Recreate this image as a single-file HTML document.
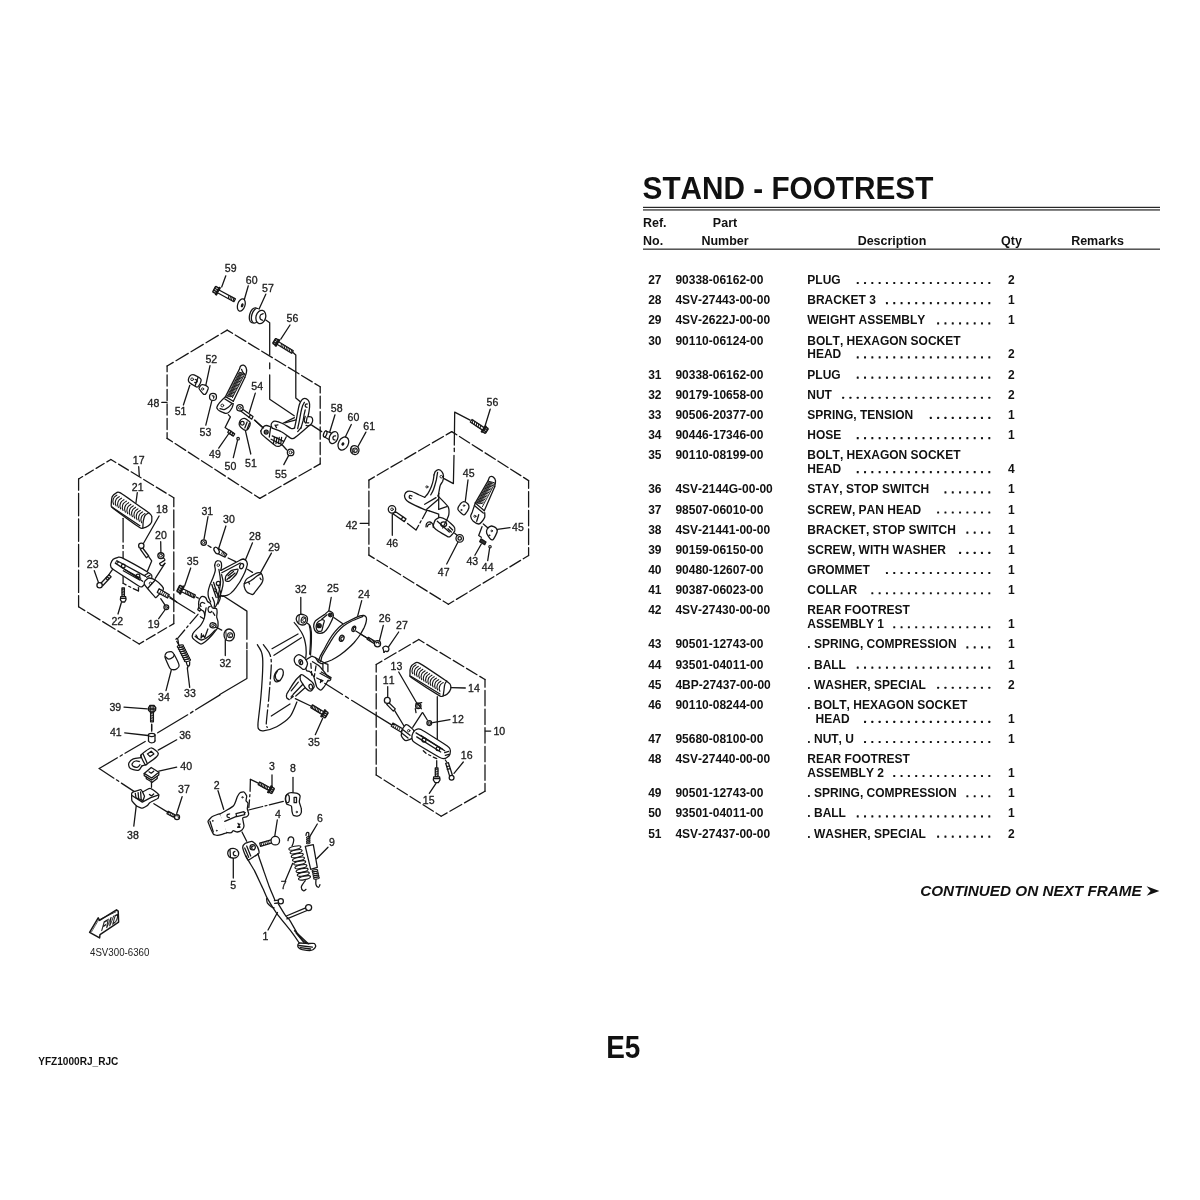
<!DOCTYPE html>
<html><head><meta charset="utf-8"><title>STAND - FOOTREST</title>
<style>
html,body{margin:0;padding:0;background:#fff;}
body{width:1200px;height:1200px;overflow:hidden;}
svg{display:block;position:absolute;left:0;top:0;will-change:transform;}
text{font-family:"Liberation Sans",sans-serif;font-kerning:none;font-feature-settings:"kern" 0,"liga" 0;}
.t text{font-weight:bold;font-size:12.0px;fill:#111;}
.t rect{fill:#111;}
text.n{font-size:10.9px;fill:#1c1c1c;stroke:#1c1c1c;stroke-width:0.32px;font-weight:normal;}
</style></head><body>
<svg width="1200" height="1200" viewBox="0 0 1200 1200">
<rect width="1200" height="1200" fill="#fff"/>
<g class="t">
<text transform="translate(642.60,199.40) scale(1,1.025)" style="font-size:29.75px;">STAND - FOOTREST</text>
<rect x="643" y="206.8" width="517" height="1.1"/>
<rect x="643" y="209.4" width="517" height="1.1"/>
<text transform="translate(643.00,227.20) scale(1,0.98)" style="font-size:12.5px;">Ref.</text>
<text transform="translate(643.00,244.70) scale(1,0.98)" style="font-size:12.5px;">No.</text>
<text transform="translate(725.00,227.20) scale(1,0.98)" text-anchor="middle" style="font-size:12.5px;">Part</text>
<text transform="translate(725.00,244.70) scale(1,0.98)" text-anchor="middle" style="font-size:12.5px;">Number</text>
<text transform="translate(892.00,244.70) scale(1,0.98)" text-anchor="middle" style="font-size:12.5px;">Description</text>
<text transform="translate(1011.50,244.70) scale(1,0.98)" text-anchor="middle" style="font-size:12.5px;">Qty</text>
<text transform="translate(1097.50,244.70) scale(1,0.98)" text-anchor="middle" style="font-size:12.5px;">Remarks</text>
<rect x="643" y="248.6" width="517" height="1.1"/>
<text transform="translate(661.50,284.00) scale(1,1.06)" text-anchor="end">27</text>
<text transform="translate(675.40,284.00) scale(1,1.06)">90338-06162-00</text>
<text transform="translate(807.30,284.00) scale(1,1.06)">PLUG</text>
<rect x="988.30" y="281.95" width="2" height="2.1" rx="0.5"/>
<rect x="980.99" y="281.95" width="2" height="2.1" rx="0.5"/>
<rect x="973.68" y="281.95" width="2" height="2.1" rx="0.5"/>
<rect x="966.37" y="281.95" width="2" height="2.1" rx="0.5"/>
<rect x="959.06" y="281.95" width="2" height="2.1" rx="0.5"/>
<rect x="951.75" y="281.95" width="2" height="2.1" rx="0.5"/>
<rect x="944.44" y="281.95" width="2" height="2.1" rx="0.5"/>
<rect x="937.13" y="281.95" width="2" height="2.1" rx="0.5"/>
<rect x="929.82" y="281.95" width="2" height="2.1" rx="0.5"/>
<rect x="922.51" y="281.95" width="2" height="2.1" rx="0.5"/>
<rect x="915.20" y="281.95" width="2" height="2.1" rx="0.5"/>
<rect x="907.89" y="281.95" width="2" height="2.1" rx="0.5"/>
<rect x="900.58" y="281.95" width="2" height="2.1" rx="0.5"/>
<rect x="893.27" y="281.95" width="2" height="2.1" rx="0.5"/>
<rect x="885.96" y="281.95" width="2" height="2.1" rx="0.5"/>
<rect x="878.65" y="281.95" width="2" height="2.1" rx="0.5"/>
<rect x="871.34" y="281.95" width="2" height="2.1" rx="0.5"/>
<rect x="864.03" y="281.95" width="2" height="2.1" rx="0.5"/>
<rect x="856.72" y="281.95" width="2" height="2.1" rx="0.5"/>
<text transform="translate(1008.00,284.00) scale(1,1.06)">2</text>
<text transform="translate(661.50,304.17) scale(1,1.06)" text-anchor="end">28</text>
<text transform="translate(675.40,304.17) scale(1,1.06)">4SV-27443-00-00</text>
<text transform="translate(807.30,304.17) scale(1,1.06)">BRACKET 3</text>
<rect x="988.30" y="302.12" width="2" height="2.1" rx="0.5"/>
<rect x="980.99" y="302.12" width="2" height="2.1" rx="0.5"/>
<rect x="973.68" y="302.12" width="2" height="2.1" rx="0.5"/>
<rect x="966.37" y="302.12" width="2" height="2.1" rx="0.5"/>
<rect x="959.06" y="302.12" width="2" height="2.1" rx="0.5"/>
<rect x="951.75" y="302.12" width="2" height="2.1" rx="0.5"/>
<rect x="944.44" y="302.12" width="2" height="2.1" rx="0.5"/>
<rect x="937.13" y="302.12" width="2" height="2.1" rx="0.5"/>
<rect x="929.82" y="302.12" width="2" height="2.1" rx="0.5"/>
<rect x="922.51" y="302.12" width="2" height="2.1" rx="0.5"/>
<rect x="915.20" y="302.12" width="2" height="2.1" rx="0.5"/>
<rect x="907.89" y="302.12" width="2" height="2.1" rx="0.5"/>
<rect x="900.58" y="302.12" width="2" height="2.1" rx="0.5"/>
<rect x="893.27" y="302.12" width="2" height="2.1" rx="0.5"/>
<rect x="885.96" y="302.12" width="2" height="2.1" rx="0.5"/>
<text transform="translate(1008.00,304.17) scale(1,1.06)">1</text>
<text transform="translate(661.50,324.34) scale(1,1.06)" text-anchor="end">29</text>
<text transform="translate(675.40,324.34) scale(1,1.06)">4SV-2622J-00-00</text>
<text transform="translate(807.30,324.34) scale(1,1.06)">WEIGHT ASSEMBLY</text>
<rect x="988.30" y="322.29" width="2" height="2.1" rx="0.5"/>
<rect x="980.99" y="322.29" width="2" height="2.1" rx="0.5"/>
<rect x="973.68" y="322.29" width="2" height="2.1" rx="0.5"/>
<rect x="966.37" y="322.29" width="2" height="2.1" rx="0.5"/>
<rect x="959.06" y="322.29" width="2" height="2.1" rx="0.5"/>
<rect x="951.75" y="322.29" width="2" height="2.1" rx="0.5"/>
<rect x="944.44" y="322.29" width="2" height="2.1" rx="0.5"/>
<rect x="937.13" y="322.29" width="2" height="2.1" rx="0.5"/>
<text transform="translate(1008.00,324.34) scale(1,1.06)">1</text>
<text transform="translate(661.50,344.51) scale(1,1.06)" text-anchor="end">30</text>
<text transform="translate(675.40,344.51) scale(1,1.06)">90110-06124-00</text>
<text transform="translate(807.30,344.51) scale(1,1.06)">BOLT, HEXAGON SOCKET</text>
<text transform="translate(807.30,358.41) scale(1,1.06)">HEAD</text>
<rect x="988.30" y="356.36" width="2" height="2.1" rx="0.5"/>
<rect x="980.99" y="356.36" width="2" height="2.1" rx="0.5"/>
<rect x="973.68" y="356.36" width="2" height="2.1" rx="0.5"/>
<rect x="966.37" y="356.36" width="2" height="2.1" rx="0.5"/>
<rect x="959.06" y="356.36" width="2" height="2.1" rx="0.5"/>
<rect x="951.75" y="356.36" width="2" height="2.1" rx="0.5"/>
<rect x="944.44" y="356.36" width="2" height="2.1" rx="0.5"/>
<rect x="937.13" y="356.36" width="2" height="2.1" rx="0.5"/>
<rect x="929.82" y="356.36" width="2" height="2.1" rx="0.5"/>
<rect x="922.51" y="356.36" width="2" height="2.1" rx="0.5"/>
<rect x="915.20" y="356.36" width="2" height="2.1" rx="0.5"/>
<rect x="907.89" y="356.36" width="2" height="2.1" rx="0.5"/>
<rect x="900.58" y="356.36" width="2" height="2.1" rx="0.5"/>
<rect x="893.27" y="356.36" width="2" height="2.1" rx="0.5"/>
<rect x="885.96" y="356.36" width="2" height="2.1" rx="0.5"/>
<rect x="878.65" y="356.36" width="2" height="2.1" rx="0.5"/>
<rect x="871.34" y="356.36" width="2" height="2.1" rx="0.5"/>
<rect x="864.03" y="356.36" width="2" height="2.1" rx="0.5"/>
<rect x="856.72" y="356.36" width="2" height="2.1" rx="0.5"/>
<text transform="translate(1008.00,358.41) scale(1,1.06)">2</text>
<text transform="translate(661.50,378.58) scale(1,1.06)" text-anchor="end">31</text>
<text transform="translate(675.40,378.58) scale(1,1.06)">90338-06162-00</text>
<text transform="translate(807.30,378.58) scale(1,1.06)">PLUG</text>
<rect x="988.30" y="376.53" width="2" height="2.1" rx="0.5"/>
<rect x="980.99" y="376.53" width="2" height="2.1" rx="0.5"/>
<rect x="973.68" y="376.53" width="2" height="2.1" rx="0.5"/>
<rect x="966.37" y="376.53" width="2" height="2.1" rx="0.5"/>
<rect x="959.06" y="376.53" width="2" height="2.1" rx="0.5"/>
<rect x="951.75" y="376.53" width="2" height="2.1" rx="0.5"/>
<rect x="944.44" y="376.53" width="2" height="2.1" rx="0.5"/>
<rect x="937.13" y="376.53" width="2" height="2.1" rx="0.5"/>
<rect x="929.82" y="376.53" width="2" height="2.1" rx="0.5"/>
<rect x="922.51" y="376.53" width="2" height="2.1" rx="0.5"/>
<rect x="915.20" y="376.53" width="2" height="2.1" rx="0.5"/>
<rect x="907.89" y="376.53" width="2" height="2.1" rx="0.5"/>
<rect x="900.58" y="376.53" width="2" height="2.1" rx="0.5"/>
<rect x="893.27" y="376.53" width="2" height="2.1" rx="0.5"/>
<rect x="885.96" y="376.53" width="2" height="2.1" rx="0.5"/>
<rect x="878.65" y="376.53" width="2" height="2.1" rx="0.5"/>
<rect x="871.34" y="376.53" width="2" height="2.1" rx="0.5"/>
<rect x="864.03" y="376.53" width="2" height="2.1" rx="0.5"/>
<rect x="856.72" y="376.53" width="2" height="2.1" rx="0.5"/>
<text transform="translate(1008.00,378.58) scale(1,1.06)">2</text>
<text transform="translate(661.50,398.75) scale(1,1.06)" text-anchor="end">32</text>
<text transform="translate(675.40,398.75) scale(1,1.06)">90179-10658-00</text>
<text transform="translate(807.30,398.75) scale(1,1.06)">NUT</text>
<rect x="988.30" y="396.70" width="2" height="2.1" rx="0.5"/>
<rect x="980.99" y="396.70" width="2" height="2.1" rx="0.5"/>
<rect x="973.68" y="396.70" width="2" height="2.1" rx="0.5"/>
<rect x="966.37" y="396.70" width="2" height="2.1" rx="0.5"/>
<rect x="959.06" y="396.70" width="2" height="2.1" rx="0.5"/>
<rect x="951.75" y="396.70" width="2" height="2.1" rx="0.5"/>
<rect x="944.44" y="396.70" width="2" height="2.1" rx="0.5"/>
<rect x="937.13" y="396.70" width="2" height="2.1" rx="0.5"/>
<rect x="929.82" y="396.70" width="2" height="2.1" rx="0.5"/>
<rect x="922.51" y="396.70" width="2" height="2.1" rx="0.5"/>
<rect x="915.20" y="396.70" width="2" height="2.1" rx="0.5"/>
<rect x="907.89" y="396.70" width="2" height="2.1" rx="0.5"/>
<rect x="900.58" y="396.70" width="2" height="2.1" rx="0.5"/>
<rect x="893.27" y="396.70" width="2" height="2.1" rx="0.5"/>
<rect x="885.96" y="396.70" width="2" height="2.1" rx="0.5"/>
<rect x="878.65" y="396.70" width="2" height="2.1" rx="0.5"/>
<rect x="871.34" y="396.70" width="2" height="2.1" rx="0.5"/>
<rect x="864.03" y="396.70" width="2" height="2.1" rx="0.5"/>
<rect x="856.72" y="396.70" width="2" height="2.1" rx="0.5"/>
<rect x="849.41" y="396.70" width="2" height="2.1" rx="0.5"/>
<rect x="842.10" y="396.70" width="2" height="2.1" rx="0.5"/>
<text transform="translate(1008.00,398.75) scale(1,1.06)">2</text>
<text transform="translate(661.50,418.92) scale(1,1.06)" text-anchor="end">33</text>
<text transform="translate(675.40,418.92) scale(1,1.06)">90506-20377-00</text>
<text transform="translate(807.30,418.92) scale(1,1.06)">SPRING, TENSION</text>
<rect x="988.30" y="416.87" width="2" height="2.1" rx="0.5"/>
<rect x="980.99" y="416.87" width="2" height="2.1" rx="0.5"/>
<rect x="973.68" y="416.87" width="2" height="2.1" rx="0.5"/>
<rect x="966.37" y="416.87" width="2" height="2.1" rx="0.5"/>
<rect x="959.06" y="416.87" width="2" height="2.1" rx="0.5"/>
<rect x="951.75" y="416.87" width="2" height="2.1" rx="0.5"/>
<rect x="944.44" y="416.87" width="2" height="2.1" rx="0.5"/>
<rect x="937.13" y="416.87" width="2" height="2.1" rx="0.5"/>
<rect x="929.82" y="416.87" width="2" height="2.1" rx="0.5"/>
<text transform="translate(1008.00,418.92) scale(1,1.06)">1</text>
<text transform="translate(661.50,439.09) scale(1,1.06)" text-anchor="end">34</text>
<text transform="translate(675.40,439.09) scale(1,1.06)">90446-17346-00</text>
<text transform="translate(807.30,439.09) scale(1,1.06)">HOSE</text>
<rect x="988.30" y="437.04" width="2" height="2.1" rx="0.5"/>
<rect x="980.99" y="437.04" width="2" height="2.1" rx="0.5"/>
<rect x="973.68" y="437.04" width="2" height="2.1" rx="0.5"/>
<rect x="966.37" y="437.04" width="2" height="2.1" rx="0.5"/>
<rect x="959.06" y="437.04" width="2" height="2.1" rx="0.5"/>
<rect x="951.75" y="437.04" width="2" height="2.1" rx="0.5"/>
<rect x="944.44" y="437.04" width="2" height="2.1" rx="0.5"/>
<rect x="937.13" y="437.04" width="2" height="2.1" rx="0.5"/>
<rect x="929.82" y="437.04" width="2" height="2.1" rx="0.5"/>
<rect x="922.51" y="437.04" width="2" height="2.1" rx="0.5"/>
<rect x="915.20" y="437.04" width="2" height="2.1" rx="0.5"/>
<rect x="907.89" y="437.04" width="2" height="2.1" rx="0.5"/>
<rect x="900.58" y="437.04" width="2" height="2.1" rx="0.5"/>
<rect x="893.27" y="437.04" width="2" height="2.1" rx="0.5"/>
<rect x="885.96" y="437.04" width="2" height="2.1" rx="0.5"/>
<rect x="878.65" y="437.04" width="2" height="2.1" rx="0.5"/>
<rect x="871.34" y="437.04" width="2" height="2.1" rx="0.5"/>
<rect x="864.03" y="437.04" width="2" height="2.1" rx="0.5"/>
<rect x="856.72" y="437.04" width="2" height="2.1" rx="0.5"/>
<text transform="translate(1008.00,439.09) scale(1,1.06)">1</text>
<text transform="translate(661.50,459.26) scale(1,1.06)" text-anchor="end">35</text>
<text transform="translate(675.40,459.26) scale(1,1.06)">90110-08199-00</text>
<text transform="translate(807.30,459.26) scale(1,1.06)">BOLT, HEXAGON SOCKET</text>
<text transform="translate(807.30,473.16) scale(1,1.06)">HEAD</text>
<rect x="988.30" y="471.11" width="2" height="2.1" rx="0.5"/>
<rect x="980.99" y="471.11" width="2" height="2.1" rx="0.5"/>
<rect x="973.68" y="471.11" width="2" height="2.1" rx="0.5"/>
<rect x="966.37" y="471.11" width="2" height="2.1" rx="0.5"/>
<rect x="959.06" y="471.11" width="2" height="2.1" rx="0.5"/>
<rect x="951.75" y="471.11" width="2" height="2.1" rx="0.5"/>
<rect x="944.44" y="471.11" width="2" height="2.1" rx="0.5"/>
<rect x="937.13" y="471.11" width="2" height="2.1" rx="0.5"/>
<rect x="929.82" y="471.11" width="2" height="2.1" rx="0.5"/>
<rect x="922.51" y="471.11" width="2" height="2.1" rx="0.5"/>
<rect x="915.20" y="471.11" width="2" height="2.1" rx="0.5"/>
<rect x="907.89" y="471.11" width="2" height="2.1" rx="0.5"/>
<rect x="900.58" y="471.11" width="2" height="2.1" rx="0.5"/>
<rect x="893.27" y="471.11" width="2" height="2.1" rx="0.5"/>
<rect x="885.96" y="471.11" width="2" height="2.1" rx="0.5"/>
<rect x="878.65" y="471.11" width="2" height="2.1" rx="0.5"/>
<rect x="871.34" y="471.11" width="2" height="2.1" rx="0.5"/>
<rect x="864.03" y="471.11" width="2" height="2.1" rx="0.5"/>
<rect x="856.72" y="471.11" width="2" height="2.1" rx="0.5"/>
<text transform="translate(1008.00,473.16) scale(1,1.06)">4</text>
<text transform="translate(661.50,493.33) scale(1,1.06)" text-anchor="end">36</text>
<text transform="translate(675.40,493.33) scale(1,1.06)">4SV-2144G-00-00</text>
<text transform="translate(807.30,493.33) scale(1,1.06)">STAY, STOP SWITCH</text>
<rect x="988.30" y="491.28" width="2" height="2.1" rx="0.5"/>
<rect x="980.99" y="491.28" width="2" height="2.1" rx="0.5"/>
<rect x="973.68" y="491.28" width="2" height="2.1" rx="0.5"/>
<rect x="966.37" y="491.28" width="2" height="2.1" rx="0.5"/>
<rect x="959.06" y="491.28" width="2" height="2.1" rx="0.5"/>
<rect x="951.75" y="491.28" width="2" height="2.1" rx="0.5"/>
<rect x="944.44" y="491.28" width="2" height="2.1" rx="0.5"/>
<text transform="translate(1008.00,493.33) scale(1,1.06)">1</text>
<text transform="translate(661.50,513.50) scale(1,1.06)" text-anchor="end">37</text>
<text transform="translate(675.40,513.50) scale(1,1.06)">98507-06010-00</text>
<text transform="translate(807.30,513.50) scale(1,1.06)">SCREW, PAN HEAD</text>
<rect x="988.30" y="511.45" width="2" height="2.1" rx="0.5"/>
<rect x="980.99" y="511.45" width="2" height="2.1" rx="0.5"/>
<rect x="973.68" y="511.45" width="2" height="2.1" rx="0.5"/>
<rect x="966.37" y="511.45" width="2" height="2.1" rx="0.5"/>
<rect x="959.06" y="511.45" width="2" height="2.1" rx="0.5"/>
<rect x="951.75" y="511.45" width="2" height="2.1" rx="0.5"/>
<rect x="944.44" y="511.45" width="2" height="2.1" rx="0.5"/>
<rect x="937.13" y="511.45" width="2" height="2.1" rx="0.5"/>
<text transform="translate(1008.00,513.50) scale(1,1.06)">1</text>
<text transform="translate(661.50,533.67) scale(1,1.06)" text-anchor="end">38</text>
<text transform="translate(675.40,533.67) scale(1,1.06)">4SV-21441-00-00</text>
<text transform="translate(807.30,533.67) scale(1,1.06)">BRACKET, STOP SWITCH</text>
<rect x="988.30" y="531.62" width="2" height="2.1" rx="0.5"/>
<rect x="980.99" y="531.62" width="2" height="2.1" rx="0.5"/>
<rect x="973.68" y="531.62" width="2" height="2.1" rx="0.5"/>
<rect x="966.37" y="531.62" width="2" height="2.1" rx="0.5"/>
<text transform="translate(1008.00,533.67) scale(1,1.06)">1</text>
<text transform="translate(661.50,553.84) scale(1,1.06)" text-anchor="end">39</text>
<text transform="translate(675.40,553.84) scale(1,1.06)">90159-06150-00</text>
<text transform="translate(807.30,553.84) scale(1,1.06)">SCREW, WITH WASHER</text>
<rect x="988.30" y="551.79" width="2" height="2.1" rx="0.5"/>
<rect x="980.99" y="551.79" width="2" height="2.1" rx="0.5"/>
<rect x="973.68" y="551.79" width="2" height="2.1" rx="0.5"/>
<rect x="966.37" y="551.79" width="2" height="2.1" rx="0.5"/>
<rect x="959.06" y="551.79" width="2" height="2.1" rx="0.5"/>
<text transform="translate(1008.00,553.84) scale(1,1.06)">1</text>
<text transform="translate(661.50,574.01) scale(1,1.06)" text-anchor="end">40</text>
<text transform="translate(675.40,574.01) scale(1,1.06)">90480-12607-00</text>
<text transform="translate(807.30,574.01) scale(1,1.06)">GROMMET</text>
<rect x="988.30" y="571.96" width="2" height="2.1" rx="0.5"/>
<rect x="980.99" y="571.96" width="2" height="2.1" rx="0.5"/>
<rect x="973.68" y="571.96" width="2" height="2.1" rx="0.5"/>
<rect x="966.37" y="571.96" width="2" height="2.1" rx="0.5"/>
<rect x="959.06" y="571.96" width="2" height="2.1" rx="0.5"/>
<rect x="951.75" y="571.96" width="2" height="2.1" rx="0.5"/>
<rect x="944.44" y="571.96" width="2" height="2.1" rx="0.5"/>
<rect x="937.13" y="571.96" width="2" height="2.1" rx="0.5"/>
<rect x="929.82" y="571.96" width="2" height="2.1" rx="0.5"/>
<rect x="922.51" y="571.96" width="2" height="2.1" rx="0.5"/>
<rect x="915.20" y="571.96" width="2" height="2.1" rx="0.5"/>
<rect x="907.89" y="571.96" width="2" height="2.1" rx="0.5"/>
<rect x="900.58" y="571.96" width="2" height="2.1" rx="0.5"/>
<rect x="893.27" y="571.96" width="2" height="2.1" rx="0.5"/>
<rect x="885.96" y="571.96" width="2" height="2.1" rx="0.5"/>
<text transform="translate(1008.00,574.01) scale(1,1.06)">1</text>
<text transform="translate(661.50,594.18) scale(1,1.06)" text-anchor="end">41</text>
<text transform="translate(675.40,594.18) scale(1,1.06)">90387-06023-00</text>
<text transform="translate(807.30,594.18) scale(1,1.06)">COLLAR</text>
<rect x="988.30" y="592.13" width="2" height="2.1" rx="0.5"/>
<rect x="980.99" y="592.13" width="2" height="2.1" rx="0.5"/>
<rect x="973.68" y="592.13" width="2" height="2.1" rx="0.5"/>
<rect x="966.37" y="592.13" width="2" height="2.1" rx="0.5"/>
<rect x="959.06" y="592.13" width="2" height="2.1" rx="0.5"/>
<rect x="951.75" y="592.13" width="2" height="2.1" rx="0.5"/>
<rect x="944.44" y="592.13" width="2" height="2.1" rx="0.5"/>
<rect x="937.13" y="592.13" width="2" height="2.1" rx="0.5"/>
<rect x="929.82" y="592.13" width="2" height="2.1" rx="0.5"/>
<rect x="922.51" y="592.13" width="2" height="2.1" rx="0.5"/>
<rect x="915.20" y="592.13" width="2" height="2.1" rx="0.5"/>
<rect x="907.89" y="592.13" width="2" height="2.1" rx="0.5"/>
<rect x="900.58" y="592.13" width="2" height="2.1" rx="0.5"/>
<rect x="893.27" y="592.13" width="2" height="2.1" rx="0.5"/>
<rect x="885.96" y="592.13" width="2" height="2.1" rx="0.5"/>
<rect x="878.65" y="592.13" width="2" height="2.1" rx="0.5"/>
<rect x="871.34" y="592.13" width="2" height="2.1" rx="0.5"/>
<text transform="translate(1008.00,594.18) scale(1,1.06)">1</text>
<text transform="translate(661.50,614.35) scale(1,1.06)" text-anchor="end">42</text>
<text transform="translate(675.40,614.35) scale(1,1.06)">4SV-27430-00-00</text>
<text transform="translate(807.30,614.35) scale(1,1.06)">REAR FOOTREST</text>
<text transform="translate(807.30,628.25) scale(1,1.06)">ASSEMBLY 1</text>
<rect x="988.30" y="626.20" width="2" height="2.1" rx="0.5"/>
<rect x="980.99" y="626.20" width="2" height="2.1" rx="0.5"/>
<rect x="973.68" y="626.20" width="2" height="2.1" rx="0.5"/>
<rect x="966.37" y="626.20" width="2" height="2.1" rx="0.5"/>
<rect x="959.06" y="626.20" width="2" height="2.1" rx="0.5"/>
<rect x="951.75" y="626.20" width="2" height="2.1" rx="0.5"/>
<rect x="944.44" y="626.20" width="2" height="2.1" rx="0.5"/>
<rect x="937.13" y="626.20" width="2" height="2.1" rx="0.5"/>
<rect x="929.82" y="626.20" width="2" height="2.1" rx="0.5"/>
<rect x="922.51" y="626.20" width="2" height="2.1" rx="0.5"/>
<rect x="915.20" y="626.20" width="2" height="2.1" rx="0.5"/>
<rect x="907.89" y="626.20" width="2" height="2.1" rx="0.5"/>
<rect x="900.58" y="626.20" width="2" height="2.1" rx="0.5"/>
<rect x="893.27" y="626.20" width="2" height="2.1" rx="0.5"/>
<text transform="translate(1008.00,628.25) scale(1,1.06)">1</text>
<text transform="translate(661.50,648.42) scale(1,1.06)" text-anchor="end">43</text>
<text transform="translate(675.40,648.42) scale(1,1.06)">90501-12743-00</text>
<text transform="translate(807.30,648.42) scale(1,1.06)">. SPRING, COMPRESSION</text>
<rect x="988.30" y="646.37" width="2" height="2.1" rx="0.5"/>
<rect x="980.99" y="646.37" width="2" height="2.1" rx="0.5"/>
<rect x="973.68" y="646.37" width="2" height="2.1" rx="0.5"/>
<rect x="966.37" y="646.37" width="2" height="2.1" rx="0.5"/>
<text transform="translate(1008.00,648.42) scale(1,1.06)">1</text>
<text transform="translate(661.50,668.59) scale(1,1.06)" text-anchor="end">44</text>
<text transform="translate(675.40,668.59) scale(1,1.06)">93501-04011-00</text>
<text transform="translate(807.30,668.59) scale(1,1.06)">. BALL</text>
<rect x="988.30" y="666.54" width="2" height="2.1" rx="0.5"/>
<rect x="980.99" y="666.54" width="2" height="2.1" rx="0.5"/>
<rect x="973.68" y="666.54" width="2" height="2.1" rx="0.5"/>
<rect x="966.37" y="666.54" width="2" height="2.1" rx="0.5"/>
<rect x="959.06" y="666.54" width="2" height="2.1" rx="0.5"/>
<rect x="951.75" y="666.54" width="2" height="2.1" rx="0.5"/>
<rect x="944.44" y="666.54" width="2" height="2.1" rx="0.5"/>
<rect x="937.13" y="666.54" width="2" height="2.1" rx="0.5"/>
<rect x="929.82" y="666.54" width="2" height="2.1" rx="0.5"/>
<rect x="922.51" y="666.54" width="2" height="2.1" rx="0.5"/>
<rect x="915.20" y="666.54" width="2" height="2.1" rx="0.5"/>
<rect x="907.89" y="666.54" width="2" height="2.1" rx="0.5"/>
<rect x="900.58" y="666.54" width="2" height="2.1" rx="0.5"/>
<rect x="893.27" y="666.54" width="2" height="2.1" rx="0.5"/>
<rect x="885.96" y="666.54" width="2" height="2.1" rx="0.5"/>
<rect x="878.65" y="666.54" width="2" height="2.1" rx="0.5"/>
<rect x="871.34" y="666.54" width="2" height="2.1" rx="0.5"/>
<rect x="864.03" y="666.54" width="2" height="2.1" rx="0.5"/>
<rect x="856.72" y="666.54" width="2" height="2.1" rx="0.5"/>
<text transform="translate(1008.00,668.59) scale(1,1.06)">1</text>
<text transform="translate(661.50,688.76) scale(1,1.06)" text-anchor="end">45</text>
<text transform="translate(675.40,688.76) scale(1,1.06)">4BP-27437-00-00</text>
<text transform="translate(807.30,688.76) scale(1,1.06)">. WASHER, SPECIAL</text>
<rect x="988.30" y="686.71" width="2" height="2.1" rx="0.5"/>
<rect x="980.99" y="686.71" width="2" height="2.1" rx="0.5"/>
<rect x="973.68" y="686.71" width="2" height="2.1" rx="0.5"/>
<rect x="966.37" y="686.71" width="2" height="2.1" rx="0.5"/>
<rect x="959.06" y="686.71" width="2" height="2.1" rx="0.5"/>
<rect x="951.75" y="686.71" width="2" height="2.1" rx="0.5"/>
<rect x="944.44" y="686.71" width="2" height="2.1" rx="0.5"/>
<rect x="937.13" y="686.71" width="2" height="2.1" rx="0.5"/>
<text transform="translate(1008.00,688.76) scale(1,1.06)">2</text>
<text transform="translate(661.50,708.93) scale(1,1.06)" text-anchor="end">46</text>
<text transform="translate(675.40,708.93) scale(1,1.06)">90110-08244-00</text>
<text transform="translate(807.30,708.93) scale(1,1.06)">. BOLT, HEXAGON SOCKET</text>
<text transform="translate(815.60,722.83) scale(1,1.06)">HEAD</text>
<rect x="988.30" y="720.78" width="2" height="2.1" rx="0.5"/>
<rect x="980.99" y="720.78" width="2" height="2.1" rx="0.5"/>
<rect x="973.68" y="720.78" width="2" height="2.1" rx="0.5"/>
<rect x="966.37" y="720.78" width="2" height="2.1" rx="0.5"/>
<rect x="959.06" y="720.78" width="2" height="2.1" rx="0.5"/>
<rect x="951.75" y="720.78" width="2" height="2.1" rx="0.5"/>
<rect x="944.44" y="720.78" width="2" height="2.1" rx="0.5"/>
<rect x="937.13" y="720.78" width="2" height="2.1" rx="0.5"/>
<rect x="929.82" y="720.78" width="2" height="2.1" rx="0.5"/>
<rect x="922.51" y="720.78" width="2" height="2.1" rx="0.5"/>
<rect x="915.20" y="720.78" width="2" height="2.1" rx="0.5"/>
<rect x="907.89" y="720.78" width="2" height="2.1" rx="0.5"/>
<rect x="900.58" y="720.78" width="2" height="2.1" rx="0.5"/>
<rect x="893.27" y="720.78" width="2" height="2.1" rx="0.5"/>
<rect x="885.96" y="720.78" width="2" height="2.1" rx="0.5"/>
<rect x="878.65" y="720.78" width="2" height="2.1" rx="0.5"/>
<rect x="871.34" y="720.78" width="2" height="2.1" rx="0.5"/>
<rect x="864.03" y="720.78" width="2" height="2.1" rx="0.5"/>
<text transform="translate(1008.00,722.83) scale(1,1.06)">1</text>
<text transform="translate(661.50,743.00) scale(1,1.06)" text-anchor="end">47</text>
<text transform="translate(675.40,743.00) scale(1,1.06)">95680-08100-00</text>
<text transform="translate(807.30,743.00) scale(1,1.06)">. NUT, U</text>
<rect x="988.30" y="740.95" width="2" height="2.1" rx="0.5"/>
<rect x="980.99" y="740.95" width="2" height="2.1" rx="0.5"/>
<rect x="973.68" y="740.95" width="2" height="2.1" rx="0.5"/>
<rect x="966.37" y="740.95" width="2" height="2.1" rx="0.5"/>
<rect x="959.06" y="740.95" width="2" height="2.1" rx="0.5"/>
<rect x="951.75" y="740.95" width="2" height="2.1" rx="0.5"/>
<rect x="944.44" y="740.95" width="2" height="2.1" rx="0.5"/>
<rect x="937.13" y="740.95" width="2" height="2.1" rx="0.5"/>
<rect x="929.82" y="740.95" width="2" height="2.1" rx="0.5"/>
<rect x="922.51" y="740.95" width="2" height="2.1" rx="0.5"/>
<rect x="915.20" y="740.95" width="2" height="2.1" rx="0.5"/>
<rect x="907.89" y="740.95" width="2" height="2.1" rx="0.5"/>
<rect x="900.58" y="740.95" width="2" height="2.1" rx="0.5"/>
<rect x="893.27" y="740.95" width="2" height="2.1" rx="0.5"/>
<rect x="885.96" y="740.95" width="2" height="2.1" rx="0.5"/>
<rect x="878.65" y="740.95" width="2" height="2.1" rx="0.5"/>
<rect x="871.34" y="740.95" width="2" height="2.1" rx="0.5"/>
<rect x="864.03" y="740.95" width="2" height="2.1" rx="0.5"/>
<text transform="translate(1008.00,743.00) scale(1,1.06)">1</text>
<text transform="translate(661.50,763.17) scale(1,1.06)" text-anchor="end">48</text>
<text transform="translate(675.40,763.17) scale(1,1.06)">4SV-27440-00-00</text>
<text transform="translate(807.30,763.17) scale(1,1.06)">REAR FOOTREST</text>
<text transform="translate(807.30,777.07) scale(1,1.06)">ASSEMBLY 2</text>
<rect x="988.30" y="775.02" width="2" height="2.1" rx="0.5"/>
<rect x="980.99" y="775.02" width="2" height="2.1" rx="0.5"/>
<rect x="973.68" y="775.02" width="2" height="2.1" rx="0.5"/>
<rect x="966.37" y="775.02" width="2" height="2.1" rx="0.5"/>
<rect x="959.06" y="775.02" width="2" height="2.1" rx="0.5"/>
<rect x="951.75" y="775.02" width="2" height="2.1" rx="0.5"/>
<rect x="944.44" y="775.02" width="2" height="2.1" rx="0.5"/>
<rect x="937.13" y="775.02" width="2" height="2.1" rx="0.5"/>
<rect x="929.82" y="775.02" width="2" height="2.1" rx="0.5"/>
<rect x="922.51" y="775.02" width="2" height="2.1" rx="0.5"/>
<rect x="915.20" y="775.02" width="2" height="2.1" rx="0.5"/>
<rect x="907.89" y="775.02" width="2" height="2.1" rx="0.5"/>
<rect x="900.58" y="775.02" width="2" height="2.1" rx="0.5"/>
<rect x="893.27" y="775.02" width="2" height="2.1" rx="0.5"/>
<text transform="translate(1008.00,777.07) scale(1,1.06)">1</text>
<text transform="translate(661.50,797.24) scale(1,1.06)" text-anchor="end">49</text>
<text transform="translate(675.40,797.24) scale(1,1.06)">90501-12743-00</text>
<text transform="translate(807.30,797.24) scale(1,1.06)">. SPRING, COMPRESSION</text>
<rect x="988.30" y="795.19" width="2" height="2.1" rx="0.5"/>
<rect x="980.99" y="795.19" width="2" height="2.1" rx="0.5"/>
<rect x="973.68" y="795.19" width="2" height="2.1" rx="0.5"/>
<rect x="966.37" y="795.19" width="2" height="2.1" rx="0.5"/>
<text transform="translate(1008.00,797.24) scale(1,1.06)">1</text>
<text transform="translate(661.50,817.41) scale(1,1.06)" text-anchor="end">50</text>
<text transform="translate(675.40,817.41) scale(1,1.06)">93501-04011-00</text>
<text transform="translate(807.30,817.41) scale(1,1.06)">. BALL</text>
<rect x="988.30" y="815.36" width="2" height="2.1" rx="0.5"/>
<rect x="980.99" y="815.36" width="2" height="2.1" rx="0.5"/>
<rect x="973.68" y="815.36" width="2" height="2.1" rx="0.5"/>
<rect x="966.37" y="815.36" width="2" height="2.1" rx="0.5"/>
<rect x="959.06" y="815.36" width="2" height="2.1" rx="0.5"/>
<rect x="951.75" y="815.36" width="2" height="2.1" rx="0.5"/>
<rect x="944.44" y="815.36" width="2" height="2.1" rx="0.5"/>
<rect x="937.13" y="815.36" width="2" height="2.1" rx="0.5"/>
<rect x="929.82" y="815.36" width="2" height="2.1" rx="0.5"/>
<rect x="922.51" y="815.36" width="2" height="2.1" rx="0.5"/>
<rect x="915.20" y="815.36" width="2" height="2.1" rx="0.5"/>
<rect x="907.89" y="815.36" width="2" height="2.1" rx="0.5"/>
<rect x="900.58" y="815.36" width="2" height="2.1" rx="0.5"/>
<rect x="893.27" y="815.36" width="2" height="2.1" rx="0.5"/>
<rect x="885.96" y="815.36" width="2" height="2.1" rx="0.5"/>
<rect x="878.65" y="815.36" width="2" height="2.1" rx="0.5"/>
<rect x="871.34" y="815.36" width="2" height="2.1" rx="0.5"/>
<rect x="864.03" y="815.36" width="2" height="2.1" rx="0.5"/>
<rect x="856.72" y="815.36" width="2" height="2.1" rx="0.5"/>
<text transform="translate(1008.00,817.41) scale(1,1.06)">1</text>
<text transform="translate(661.50,837.58) scale(1,1.06)" text-anchor="end">51</text>
<text transform="translate(675.40,837.58) scale(1,1.06)">4SV-27437-00-00</text>
<text transform="translate(807.30,837.58) scale(1,1.06)">. WASHER, SPECIAL</text>
<rect x="988.30" y="835.53" width="2" height="2.1" rx="0.5"/>
<rect x="980.99" y="835.53" width="2" height="2.1" rx="0.5"/>
<rect x="973.68" y="835.53" width="2" height="2.1" rx="0.5"/>
<rect x="966.37" y="835.53" width="2" height="2.1" rx="0.5"/>
<rect x="959.06" y="835.53" width="2" height="2.1" rx="0.5"/>
<rect x="951.75" y="835.53" width="2" height="2.1" rx="0.5"/>
<rect x="944.44" y="835.53" width="2" height="2.1" rx="0.5"/>
<rect x="937.13" y="835.53" width="2" height="2.1" rx="0.5"/>
<text transform="translate(1008.00,837.58) scale(1,1.06)">2</text>
<text transform="translate(920.20,896.00) scale(1,0.98)" style="font-size:15.3px;font-style:italic">CONTINUED ON NEXT FRAME</text>
<path d="M1146.6 886.2 L1159.4 891 L1146.6 895.7 L1150.6 891 Z" fill="#111"/>
<text transform="translate(606.20,1057.60) scale(1,1.115)" style="font-size:27.9px;">E5</text>
<text transform="translate(38.20,1064.80) scale(1,1.02)" style="font-size:10.1px;">YFZ1000RJ_RJC</text>
</g>
<g fill="none" stroke="#161616" stroke-width="1.28" stroke-linecap="round" stroke-linejoin="round">
<path d="M227.2 330.1 L320.2 386.8" stroke-dasharray="12.36 3.2" stroke-dashoffset="6.18"/>
<path d="M320.2 386.8 L320.2 463.9" stroke-dasharray="12.22 3.2" stroke-dashoffset="6.11"/>
<path d="M320.2 463.9 L259.8 498.4" stroke-dasharray="14.19 3.2" stroke-dashoffset="7.09"/>
<path d="M259.8 498.4 L167.1 438.4" stroke-dasharray="12.57 3.2" stroke-dashoffset="6.29"/>
<path d="M167.1 438.4 L167.1 366.0" stroke-dasharray="11.28 3.2" stroke-dashoffset="5.64"/>
<path d="M167.1 366.0 L227.2 330.1" stroke-dasharray="14.30 3.2" stroke-dashoffset="7.15"/>
<path d="M110.9 459.5 L173.8 497.8" stroke-dasharray="11.53 3.2" stroke-dashoffset="5.76"/>
<path d="M173.8 497.8 L173.8 623.6" stroke-dasharray="17.77 3.2" stroke-dashoffset="8.88"/>
<path d="M173.8 623.6 L139.2 644.0" stroke-dasharray="10.19 3.2" stroke-dashoffset="5.09"/>
<path d="M139.2 644.0 L78.6 606.8" stroke-dasharray="14.58 3.2" stroke-dashoffset="7.29"/>
<path d="M78.6 606.8 L78.6 479.0" stroke-dasharray="22.36 3.2" stroke-dashoffset="11.18"/>
<path d="M78.6 479.0 L110.9 459.5" stroke-dasharray="9.38 3.2" stroke-dashoffset="4.69"/>
<path d="M451.7 431.6 L528.6 480.6" stroke-dasharray="12.00 3.2" stroke-dashoffset="6.00"/>
<path d="M528.6 480.6 L528.6 555.5" stroke-dasharray="15.52 3.2" stroke-dashoffset="7.76"/>
<path d="M528.6 555.5 L448.4 604.3" stroke-dasharray="12.45 3.2" stroke-dashoffset="6.22"/>
<path d="M448.4 604.3 L368.9 555.1" stroke-dasharray="12.38 3.2" stroke-dashoffset="6.19"/>
<path d="M368.9 555.1 L368.9 480.1" stroke-dasharray="15.55 3.2" stroke-dashoffset="7.78"/>
<path d="M368.9 480.1 L451.7 431.6" stroke-dasharray="12.79 3.2" stroke-dashoffset="6.40"/>
<path d="M418.8 639.5 L485.0 679.5" stroke-dasharray="12.27 3.2" stroke-dashoffset="6.13"/>
<path d="M485.0 679.5 L485.0 791.2" stroke-dasharray="15.42 3.2" stroke-dashoffset="7.71"/>
<path d="M485.0 791.2 L441.2 816.2" stroke-dasharray="13.61 3.2" stroke-dashoffset="6.81"/>
<path d="M441.2 816.2 L376.2 775.0" stroke-dasharray="12.19 3.2" stroke-dashoffset="6.10"/>
<path d="M376.2 775.0 L376.2 664.5" stroke-dasharray="15.22 3.2" stroke-dashoffset="7.61"/>
<path d="M376.2 664.5 L418.8 639.5" stroke-dasharray="13.26 3.2" stroke-dashoffset="6.63"/>
<text class="n" transform="translate(230.7,272.1) scale(0.97,1)" text-anchor="middle">59</text>
<path d="M225.8 275.8 L221.7 287.0"/>
<path d="M215.4 286.8 L216.2 286.6 L218.9 288.1 L215.9 293.7 L213.1 292.2 L212.9 291.5 Z" stroke-width="1.5" fill="#fff"/>
<path d="M214.7 288.2 L217.9 290.0"/>
<path d="M213.7 290.1 L216.9 291.9"/>
<path d="M219.3 287.5 L220.2 288.0 L216.4 294.9 L215.5 294.4 Z" stroke-width="1.5" fill="#fff"/>
<path d="M219.0 290.0 L235.4 298.9 L233.9 301.7 L217.5 292.8 Z" fill="#fff"/>
<path d="M228.9 295.4 L228.3 298.6" stroke-width="1.0"/>
<path d="M230.5 296.3 L229.9 299.5" stroke-width="1.0"/>
<path d="M232.1 297.2 L231.5 300.4" stroke-width="1.0"/>
<path d="M233.8 298.1 L233.2 301.3" stroke-width="1.0"/>
<text class="n" transform="translate(251.7,283.8) scale(0.97,1)" text-anchor="middle">60</text>
<path d="M248.3 285.8 L243.7 301.7"/>
<ellipse cx="241.3" cy="305.0" rx="3.67" ry="6.33" transform="rotate(18 241.3 305.0)" fill="#fff"/>
<ellipse cx="242.2" cy="305.3" rx="0.67" ry="1.50" transform="rotate(18 242.2 305.3)"/>
<text class="n" transform="translate(268.0,292.1) scale(0.97,1)" text-anchor="middle">57</text>
<path d="M265.8 294.2 L259.2 308.7"/>
<ellipse cx="253.8" cy="315.3" rx="4.17" ry="7.67" transform="rotate(15 253.8 315.3)" fill="#fff"/>
<ellipse cx="255.7" cy="315.8" rx="4.00" ry="7.50" transform="rotate(15 255.7 315.8)" fill="#fff"/>
<path d="M256.3 308.7 L260.7 310.0 L263.3 323.7 L258.0 323.3 Z" fill="#fff" stroke="none"/>
<ellipse cx="260.8" cy="317.0" rx="4.83" ry="6.83" transform="rotate(15 260.8 317.0)" fill="#fff"/>
<path d="M263.2 313.7 C262.7 313.9 261.0 314.2 260.5 315.0 C260.0 315.8 259.8 317.8 260.2 318.7 C260.5 319.6 262.1 320.1 262.5 320.3"/>
<path d="M265.8 320.0 L269.7 322.7 L269.7 355.0"/>
<path d="M269.7 363.0 L269.7 368.7"/>
<path d="M269.7 375.0 L269.7 399.2 L294.2 415.8"/>
<text class="n" transform="translate(292.5,322.1) scale(0.97,1)" text-anchor="middle">56</text>
<path d="M290.0 325.0 L280.8 339.2"/>
<path d="M275.4 338.8 L276.1 338.7 L278.5 340.1 L275.5 345.0 L273.1 343.5 L272.9 342.9 Z" stroke-width="1.5" fill="#fff"/>
<path d="M274.7 340.0 L277.5 341.7"/>
<path d="M273.7 341.7 L276.5 343.4"/>
<path d="M278.8 339.6 L279.6 340.1 L276.0 346.1 L275.2 345.6 Z" stroke-width="1.5" fill="#fff"/>
<path d="M278.6 341.8 L293.3 350.7 L291.7 353.3 L277.0 344.3 Z" fill="#fff"/>
<path d="M281.5 343.6 L280.9 346.7" stroke-width="1.0"/>
<path d="M283.2 344.6 L282.6 347.7" stroke-width="1.0"/>
<path d="M284.9 345.6 L284.2 348.7" stroke-width="1.0"/>
<path d="M286.6 346.6 L285.9 349.8" stroke-width="1.0"/>
<path d="M288.2 347.7 L287.6 350.8" stroke-width="1.0"/>
<path d="M289.9 348.7 L289.3 351.8" stroke-width="1.0"/>
<path d="M291.6 349.7 L291.0 352.8" stroke-width="1.0"/>
<path d="M293.0 352.5 L295.8 355.0 L295.8 398.0 L299.7 401.3"/>
<path d="M161.8 402.4 L167.0 402.4"/>
<text class="n" transform="translate(211.3,362.5) scale(0.97,1)" text-anchor="middle">52</text>
<path d="M210.0 365.6 L205.8 385.3"/>
<text class="n" transform="translate(180.6,415.2) scale(0.97,1)" text-anchor="middle">51</text>
<path d="M189.8 385.3 L183.4 405.0"/>
<text class="n" transform="translate(205.4,436.3) scale(0.97,1)" text-anchor="middle">53</text>
<path d="M211.8 400.9 L205.8 425.2"/>
<path d="M188.4 379.3 C188.6 378.4 189.1 376.9 189.8 376.1 C190.5 375.3 191.5 374.6 192.5 374.6 C193.6 374.5 194.9 375.2 196.2 375.9 C197.5 376.5 199.7 377.8 200.5 378.6 C201.3 379.4 201.3 379.7 201.1 380.7 C200.9 381.7 200.1 383.8 199.4 384.8 C198.7 385.9 198.1 387.2 196.9 387.1 C195.6 387.0 193.0 385.0 191.6 384.1 C190.3 383.2 189.4 382.7 188.9 381.9 C188.3 381.1 188.3 380.3 188.4 379.3 Z" fill="#fff"/>
<ellipse cx="192.1" cy="379.3" rx="1.38" ry="1.38" stroke-width="0.9"/>
<path d="M195.3 379.5 C195.6 379.6 196.9 379.8 197.1 380.3 C197.4 380.7 197.0 381.9 196.7 382.3 C196.3 382.6 195.1 382.5 194.8 382.5"/>
<path d="M198.0 377.5 L195.3 385.3"/>
<path d="M199.0 388.5 C198.8 387.8 200.7 385.3 201.1 385.0 C201.4 384.7 202.5 384.5 203.1 384.7 C203.6 384.8 207.2 386.3 207.7 386.7 C208.1 387.0 208.3 388.3 208.1 389.0 C207.9 389.6 206.0 393.6 205.6 394.0 C205.2 394.4 203.8 394.5 203.3 394.0 C202.7 393.5 199.1 389.2 199.0 388.5 Z" fill="#fff"/>
<ellipse cx="202.6" cy="389.0" rx="1.10" ry="1.10" stroke-width="0.9"/>
<ellipse cx="213.0" cy="396.9" rx="3.48" ry="3.48" fill="#fff"/>
<path d="M212.3 395.8 C212.5 395.9 213.7 395.9 213.9 396.3 C214.1 396.7 213.7 397.8 213.6 398.1"/>
<path d="M239.6 368.8 C239.8 368.2 239.9 366.8 240.7 366.0 C241.5 365.3 242.5 364.9 243.6 365.2 C244.7 365.5 245.4 366.2 246.0 367.6 C246.6 369.0 246.8 370.0 246.5 372.0 C246.3 374.0 245.1 376.4 244.8 377.5"/>
<path d="M239.6 368.8 L225.5 396.6"/>
<path d="M244.8 377.5 L233.3 401.3"/>
<path d="M241.6 369.4 C241.7 369.8 242.1 370.8 242.5 371.5 C242.9 372.3 243.9 373.6 244.2 374.0"/>
<path d="M244.8 374.0 L232.4 397.7" stroke-width="0.9"/>
<path d="M239.2 372.2 L244.3 373.5" stroke-width="1.0"/>
<path d="M239.2 372.8 L242.0 373.6" stroke-width="0.8"/>
<path d="M238.5 373.6 L243.6 374.8" stroke-width="1.0"/>
<path d="M238.5 374.2 L241.3 374.9" stroke-width="0.8"/>
<path d="M237.8 374.9 L242.9 376.2" stroke-width="1.0"/>
<path d="M237.8 375.6 L240.7 376.3" stroke-width="0.8"/>
<path d="M237.1 376.3 L242.3 377.6" stroke-width="1.0"/>
<path d="M237.1 377.0 L240.0 377.7" stroke-width="0.8"/>
<path d="M236.4 377.7 L241.6 379.0" stroke-width="1.0"/>
<path d="M236.4 378.3 L239.3 379.1" stroke-width="0.8"/>
<path d="M235.7 379.1 L240.9 380.3" stroke-width="1.0"/>
<path d="M235.7 379.7 L238.6 380.4" stroke-width="0.8"/>
<path d="M235.0 380.4 L240.2 381.7" stroke-width="1.0"/>
<path d="M235.0 381.1 L237.9 381.8" stroke-width="0.8"/>
<path d="M234.3 381.8 L239.5 383.1" stroke-width="1.0"/>
<path d="M234.3 382.5 L237.2 383.2" stroke-width="0.8"/>
<path d="M233.6 383.2 L238.8 384.5" stroke-width="1.0"/>
<path d="M233.6 383.8 L236.5 384.6" stroke-width="0.8"/>
<path d="M233.0 384.6 L238.1 385.8" stroke-width="1.0"/>
<path d="M233.0 385.2 L235.8 385.9" stroke-width="0.8"/>
<path d="M232.3 385.9 L237.4 387.2" stroke-width="1.0"/>
<path d="M232.3 386.6 L235.1 387.3" stroke-width="0.8"/>
<path d="M231.6 387.3 L236.7 388.6" stroke-width="1.0"/>
<path d="M231.6 388.0 L234.4 388.7" stroke-width="0.8"/>
<path d="M230.9 388.7 L236.0 390.0" stroke-width="1.0"/>
<path d="M230.9 389.3 L233.7 390.1" stroke-width="0.8"/>
<path d="M230.2 390.1 L235.3 391.3" stroke-width="1.0"/>
<path d="M230.2 390.7 L233.0 391.4" stroke-width="0.8"/>
<path d="M229.5 391.4 L234.6 392.7" stroke-width="1.0"/>
<path d="M229.5 392.1 L232.3 392.8" stroke-width="0.8"/>
<path d="M228.8 392.8 L233.9 394.1" stroke-width="1.0"/>
<path d="M228.8 393.5 L231.6 394.2" stroke-width="0.8"/>
<path d="M228.1 394.2 L233.2 395.5" stroke-width="1.0"/>
<path d="M228.1 394.8 L230.9 395.6" stroke-width="0.8"/>
<path d="M227.4 395.6 L232.5 396.8" stroke-width="1.0"/>
<path d="M227.4 396.2 L230.2 396.9" stroke-width="0.8"/>
<path d="M225.5 396.6 L233.3 401.3"/>
<path d="M224.9 399.0 L232.4 403.6"/>
<path d="M225.5 396.8 C224.8 397.4 220.6 401.5 219.6 402.7 C218.6 403.9 217.0 406.5 216.8 407.3 C216.6 408.1 217.5 409.1 217.9 409.6 C218.4 410.1 220.0 411.2 221.0 411.6 C221.9 412.0 225.2 413.4 226.2 413.4 C227.2 413.4 228.8 412.3 229.5 411.6 C230.2 410.9 231.5 408.7 232.0 407.8 C232.4 406.8 233.2 404.1 233.3 403.6"/>
<path d="M220.0 408.7 C220.6 408.8 223.1 409.8 224.2 409.6 C225.3 409.4 227.3 408.0 228.3 407.3 C229.3 406.6 231.1 404.5 231.5 404.1"/>
<ellipse cx="222.3" cy="405.5" rx="1.38" ry="1.38" stroke-width="0.9"/>
<path d="M228.3 414.6 L230.4 416.9 L225.1 427.5 L228.3 429.8"/>
<path d="M228.9 429.9 L234.7 433.9 L233.3 436.2 L227.8 432.5 Z" fill="#fff"/>
<path d="M231.0 431.4 L229.7 433.9"/>
<path d="M232.9 432.7 L231.7 435.1"/>
<text class="n" transform="translate(215.0,458.3) scale(0.97,1)" text-anchor="middle">49</text>
<path d="M229.2 433.0 L218.7 448.1"/>
<ellipse cx="238.1" cy="438.7" rx="1.28" ry="1.28" stroke-width="1.2"/>
<path d="M237.5 440.3 L233.3 457.7"/>
<text class="n" transform="translate(257.2,390.0) scale(0.97,1)" text-anchor="middle">54</text>
<path d="M255.3 393.1 L249.4 412.3"/>
<path d="M242.0 408.7 L253.0 416.5 L251.7 419.2 L240.7 411.0 Z" fill="#fff"/>
<path d="M250.3 415.1 L248.9 417.4"/>
<ellipse cx="239.9" cy="407.8" rx="3.21" ry="3.21" fill="#fff"/>
<ellipse cx="239.9" cy="407.8" rx="1.38" ry="1.38" stroke-width="0.9"/>
<path d="M254.4 420.1 L263.6 427.9"/>
<path d="M239.3 422.9 C239.5 422.0 239.8 420.6 240.7 419.9 C241.5 419.1 243.1 418.2 244.3 418.3 C245.6 418.4 247.0 419.6 248.0 420.4 C249.0 421.2 250.3 421.9 250.3 423.3 C250.3 424.7 249.0 427.7 248.2 428.8 C247.4 430.0 246.5 430.4 245.4 430.3 C244.3 430.2 242.6 429.0 241.6 428.1 C240.6 427.2 239.8 426.0 239.4 425.2 C239.0 424.3 239.1 423.8 239.3 422.9 Z" fill="#fff"/>
<ellipse cx="242.3" cy="423.3" rx="1.83" ry="1.83"/>
<path d="M247.1 422.0 L244.8 427.9"/>
<path d="M249.4 423.3 L247.1 429.3"/>
<path d="M245.4 430.7 L250.8 454.0"/>
<path d="M260.8 431.0 C261.2 430.5 262.5 427.8 263.2 427.0 C263.9 426.3 265.2 425.5 266.2 425.5 C267.3 425.5 270.5 426.8 271.1 427.0"/>
<path d="M260.8 431.0 C261.0 431.4 260.7 433.2 262.1 434.6 C263.6 436.1 273.7 444.5 275.5 445.7 C277.2 446.8 279.1 446.2 279.8 446.0 C280.5 445.8 281.8 445.0 282.5 444.0 C283.1 443.1 285.9 437.5 286.3 436.8"/>
<ellipse cx="266.2" cy="432.1" rx="1.95" ry="1.95"/>
<ellipse cx="266.2" cy="432.1" rx="0.87" ry="0.87" stroke-width="0.9"/>
<path d="M270.6 427.5 L269.3 437.0"/>
<path d="M272.2 435.9 L283.6 441.3"/>
<path d="M271.1 439.2 L281.4 444.4"/>
<path d="M274.4 437.5 L273.5 443.5"/>
<path d="M276.9 437.5 L276.0 443.5"/>
<path d="M279.2 437.5 L278.4 443.5"/>
<path d="M281.6 437.5 L280.8 443.5"/>
<path d="M272.2 428.1 C272.1 427.8 271.1 426.0 271.1 425.3 C271.1 424.6 271.8 422.9 272.3 422.4 C272.8 421.9 273.9 421.1 275.1 421.2 C276.3 421.3 280.6 422.6 282.5 423.5 C284.4 424.3 289.8 428.0 291.2 428.5 C292.6 429.1 294.2 428.0 294.6 427.9"/>
<path d="M272.2 428.1 C273.1 428.5 279.6 430.8 281.4 431.8 C283.3 432.8 289.4 437.4 290.6 438.1 C291.8 438.7 292.5 438.9 293.5 438.4 C294.6 437.9 299.4 433.9 300.9 432.7 C302.5 431.4 308.2 426.3 309.0 425.6"/>
<path d="M282.5 423.5 L294.4 417.7"/>
<path d="M284.9 422.9 L296.0 419.9"/>
<path d="M275.1 425.1 L276.5 427.8"/>
<path d="M275.8 425.3 L277.9 424.9"/>
<path d="M297.7 431.6 L300.9 427.8"/>
<path d="M294.6 427.9 C294.8 426.9 295.7 422.9 296.1 420.7 C296.6 418.6 297.2 414.2 297.7 412.1 C298.1 409.9 298.8 406.3 299.3 404.7 C299.8 403.1 300.8 401.0 301.6 400.2 C302.3 399.3 303.9 398.4 304.8 398.4 C305.7 398.4 307.4 399.4 308.1 400.2 C308.7 400.9 309.4 402.6 309.6 404.1 C309.7 405.5 309.4 409.3 309.1 411.0 C308.9 412.7 308.1 415.9 308.0 416.6"/>
<path d="M297.7 428.5 C297.9 427.5 299.0 422.9 299.4 420.7 C299.8 418.6 300.5 414.3 300.9 412.3 C301.3 410.3 302.2 407.1 302.6 405.8 C303.1 404.5 304.2 402.8 304.4 402.3"/>
<path d="M300.9 428.3 C301.2 427.3 302.6 422.6 303.1 420.7 C303.5 418.9 303.9 415.7 304.2 414.2 C304.5 412.8 305.1 410.5 305.2 409.9"/>
<path d="M307.2 404.0 C306.9 404.0 305.8 404.0 305.5 404.5 C305.2 405.0 305.2 406.2 305.5 406.7 C305.7 407.1 306.7 407.2 307.0 407.3"/>
<path d="M308.0 416.6 C308.5 416.7 310.5 416.5 311.3 417.1 C312.1 417.7 312.7 419.2 312.7 420.3 C312.7 421.5 312.0 423.1 311.3 424.0 C310.6 424.9 309.4 425.7 308.5 425.9 C307.6 426.2 306.5 425.4 306.1 425.3"/>
<path d="M307.1 417.5 C307.0 418.3 306.1 421.5 306.3 422.4 C306.6 423.3 308.3 422.8 308.7 422.9"/>
<path d="M305.2 416.4 C305.1 417.1 304.1 419.6 304.2 420.7 C304.3 421.9 305.5 422.7 305.8 423.1"/>
<path d="M254.9 420.2 L261.7 426.7"/>
<path d="M282.5 445.2 L286.6 449.7"/>
<ellipse cx="290.6" cy="452.4" rx="3.25" ry="3.25" fill="#fff"/>
<ellipse cx="290.6" cy="452.4" rx="1.52" ry="1.52" stroke-width="0.9"/>
<path d="M288.7 455.4 L283.8 464.6"/>
<path d="M311.7 425.1 L321.7 431.6"/>
<path d="M325.8 431.0 L331.0 432.9"/>
<path d="M324.5 437.0 L329.9 440.0"/>
<ellipse cx="325.2" cy="434.0" rx="1.52" ry="3.14" transform="rotate(20 325.2 434.0)" fill="#fff"/>
<ellipse cx="333.6" cy="437.6" rx="4.12" ry="6.28" transform="rotate(22 333.6 437.6)" fill="#fff"/>
<path d="M335.6 435.9 C335.2 436.0 333.8 435.9 333.4 436.5 C333.0 437.0 332.9 438.6 333.2 439.2 C333.5 439.8 334.7 439.9 335.0 440.0"/>
<text class="n" transform="translate(336.7,412.1) scale(0.97,1)" text-anchor="middle">58</text>
<path d="M335.0 414.8 L329.8 431.8"/>
<ellipse cx="343.4" cy="443.5" rx="4.87" ry="6.93" transform="rotate(28 343.4 443.5)" fill="#fff"/>
<ellipse cx="342.9" cy="444.0" rx="0.76" ry="1.19" transform="rotate(28 342.9 444.0)" fill="#222"/>
<text class="n" transform="translate(353.5,421.3) scale(0.97,1)" text-anchor="middle">60</text>
<path d="M351.3 424.5 L345.3 437.0"/>
<path d="M350.7 448.4 C351.0 447.5 352.1 446.2 352.9 445.9 C353.7 445.6 355.9 445.8 356.7 446.2 C357.5 446.6 358.7 448.2 358.9 449.1 C359.1 450.0 358.7 452.3 358.1 453.0 C357.6 453.8 355.8 454.6 354.9 454.5 C354.0 454.5 351.8 453.5 351.3 452.7 C350.7 451.9 350.5 449.3 350.7 448.4 Z" fill="#fff"/>
<ellipse cx="355.1" cy="450.2" rx="2.17" ry="2.17" stroke-width="1.1"/>
<path d="M356.2 449.1 C355.9 449.2 354.7 449.4 354.4 449.8 C354.2 450.1 354.5 451.0 354.5 451.3" stroke-width="0.9"/>
<path d="M351.8 447.8 L352.4 453.2" stroke-width="1.0"/>
<text class="n" transform="translate(369.2,430.0) scale(0.97,1)" text-anchor="middle">61</text>
<path d="M365.9 432.1 L358.0 446.5"/>
<text class="n" transform="translate(230.4,469.8) scale(0.97,1)" text-anchor="middle">50</text>
<text class="n" transform="translate(251.0,466.8) scale(0.97,1)" text-anchor="middle">51</text>
<text class="n" transform="translate(281.0,477.8) scale(0.97,1)" text-anchor="middle">55</text>
<text class="n" transform="translate(153.5,407.0) scale(0.97,1)" text-anchor="middle">48</text>
<text class="n" transform="translate(138.7,463.8) scale(0.97,1)" text-anchor="middle">17</text>
<path d="M138.7 466.7 L139.3 476.1"/>
<text class="n" transform="translate(137.7,491.1) scale(0.97,1)" text-anchor="middle">21</text>
<path d="M137.3 492.7 L136.0 502.7"/>
<path d="M111.3 503.1 C111.4 502.1 111.7 497.9 112.1 496.9 C112.6 495.9 115.2 493.5 116.0 493.1 C116.8 492.7 117.1 491.0 120.4 492.9 C123.7 494.9 145.5 510.3 148.7 512.7 C151.8 515.0 151.5 515.3 151.7 516.3 C152.0 517.2 151.8 521.3 151.5 522.3 C151.1 523.2 149.0 525.4 148.1 526.0 C147.3 526.6 143.7 528.0 142.8 528.1 C141.9 528.3 142.2 529.3 139.3 527.3 C136.5 525.4 116.8 511.0 114.0 508.9 C111.2 506.8 111.6 506.9 111.3 506.3 C111.1 505.7 111.3 504.0 111.3 503.1 Z" fill="#fff"/>
<path d="M148.7 512.7 C148.2 513.1 145.6 514.5 144.9 515.6 C144.2 516.7 143.6 519.3 143.3 520.9 C143.0 522.6 142.9 527.2 142.8 528.1"/>
<path d="M111.9 507.1 L139.9 525.7"/>
<path d="M116.9 495.1 C116.4 495.5 114.7 496.4 114.0 497.5 C113.3 498.5 113.0 500.3 112.9 501.5 C112.9 502.6 113.6 503.9 113.7 504.4" stroke-width="1.1"/>
<path d="M119.3 496.6 C118.8 497.0 117.0 497.9 116.3 499.0 C115.7 500.1 115.3 501.8 115.3 503.0 C115.2 504.2 115.9 505.4 116.1 505.9" stroke-width="1.1"/>
<path d="M121.6 498.1 C121.1 498.5 119.3 499.5 118.7 500.5 C118.0 501.6 117.6 503.4 117.6 504.5 C117.6 505.7 118.3 507.0 118.4 507.5" stroke-width="1.1"/>
<path d="M123.9 499.7 C123.4 500.1 121.7 501.0 121.0 502.1 C120.3 503.1 120.0 504.9 119.9 506.1 C119.9 507.2 120.6 508.5 120.7 509.0" stroke-width="1.1"/>
<path d="M126.3 501.2 C125.8 501.6 124.0 502.5 123.3 503.6 C122.7 504.7 122.3 506.4 122.3 507.6 C122.2 508.8 122.9 510.0 123.1 510.5" stroke-width="1.1"/>
<path d="M128.6 502.7 C128.1 503.1 126.3 504.1 125.7 505.1 C125.0 506.2 124.6 508.0 124.6 509.1 C124.6 510.3 125.3 511.6 125.4 512.1" stroke-width="1.1"/>
<path d="M130.9 504.3 C130.4 504.7 128.7 505.6 128.0 506.7 C127.3 507.7 127.0 509.5 126.9 510.7 C126.9 511.8 127.6 513.1 127.7 513.6" stroke-width="1.1"/>
<path d="M133.3 505.8 C132.8 506.2 131.0 507.1 130.3 508.2 C129.7 509.3 129.3 511.0 129.3 512.2 C129.2 513.4 129.9 514.6 130.1 515.1" stroke-width="1.1"/>
<path d="M135.6 507.3 C135.1 507.7 133.3 508.7 132.7 509.7 C132.0 510.8 131.6 512.6 131.6 513.7 C131.6 514.9 132.3 516.2 132.4 516.7" stroke-width="1.1"/>
<path d="M137.9 508.9 C137.4 509.3 135.7 510.2 135.0 511.3 C134.3 512.3 134.0 514.1 133.9 515.3 C133.9 516.4 134.6 517.7 134.7 518.2" stroke-width="1.1"/>
<path d="M140.3 510.4 C139.8 510.8 138.0 511.7 137.3 512.8 C136.7 513.9 136.3 515.6 136.3 516.8 C136.2 518.0 136.9 519.2 137.1 519.7" stroke-width="1.1"/>
<path d="M142.6 511.9 C142.1 512.3 140.3 513.3 139.7 514.3 C139.0 515.4 138.6 517.2 138.6 518.3 C138.6 519.5 139.3 520.8 139.4 521.3" stroke-width="1.1"/>
<path d="M144.9 513.5 C144.4 513.9 142.7 514.8 142.0 515.9 C141.3 516.9 141.0 518.7 140.9 519.9 C140.9 521.0 141.6 522.3 141.7 522.8" stroke-width="1.1"/>
<path d="M123.1 518.3 L123.1 542.0"/>
<path d="M123.1 545.3 L123.1 548.4"/>
<path d="M123.1 551.6 L123.1 583.3"/>
<path d="M123.1 583.3 L126.0 584.9"/>
<path d="M128.7 586.3 L130.7 587.3"/>
<path d="M133.3 588.7 L138.3 590.9"/>
<path d="M138.5 590.9 L138.5 587.6"/>
<text class="n" transform="translate(162.0,513.1) scale(0.97,1)" text-anchor="middle">18</text>
<path d="M159.1 516.0 L143.1 544.0"/>
<path d="M142.7 548.0 L148.7 556.0 L146.3 557.7 L140.4 549.3 Z" fill="#fff"/>
<ellipse cx="141.3" cy="545.7" rx="2.67" ry="2.67" fill="#fff"/>
<path d="M148.7 556.7 L151.7 560.9 L147.6 570.7 L144.7 574.7"/>
<text class="n" transform="translate(160.9,538.9) scale(0.97,1)" text-anchor="middle">20</text>
<path d="M160.7 541.7 L160.9 552.0"/>
<ellipse cx="160.9" cy="555.6" rx="3.07" ry="3.07"/>
<ellipse cx="160.9" cy="555.6" rx="1.47" ry="1.47" stroke-width="0.9"/>
<path d="M158.5 554.0 C158.9 553.8 160.1 552.9 160.9 552.9 C161.7 553.0 162.9 554.0 163.3 554.3" stroke-width="0.9"/>
<path d="M163.3 557.7 C163.6 558.1 165.2 559.3 164.9 560.0 C164.7 560.7 162.9 561.4 162.0 562.0 C161.1 562.6 159.6 563.0 159.6 563.6 C159.6 564.2 161.1 565.8 162.0 565.7 C162.9 565.7 164.4 563.7 164.9 563.3"/>
<path d="M164.9 563.3 L155.3 578.3"/>
<text class="n" transform="translate(92.7,568.2) scale(0.97,1)" text-anchor="middle">23</text>
<path d="M94.3 570.7 L98.7 583.1"/>
<path d="M100.9 583.3 L108.9 574.7 L111.1 576.7 L102.7 585.7 Z" fill="#fff"/>
<ellipse cx="99.6" cy="585.3" rx="2.67" ry="2.67" fill="#fff"/>
<path d="M105.7 578.3 L107.6 580.0"/>
<path d="M107.1 576.7 L109.1 578.5"/>
<path d="M108.9 574.7 L112.4 569.7"/>
<path d="M110.7 563.6 C110.9 563.0 112.6 559.9 113.2 559.3 C113.8 558.8 117.3 557.5 118.0 557.3 C118.7 557.2 119.2 556.5 121.7 557.7 C124.3 559.0 146.2 571.2 148.7 572.7 C151.2 574.1 151.5 574.8 151.7 575.3 C152.0 575.8 151.9 578.3 151.5 578.8 C151.1 579.3 147.4 581.0 146.8 581.5 C146.2 582.0 144.5 584.2 144.1 584.7 C143.7 585.1 142.5 586.7 142.0 586.8 C141.5 586.9 141.1 587.5 138.7 586.0 C136.2 584.5 115.0 570.6 112.7 568.9 C110.3 567.3 110.8 566.4 110.7 566.0 C110.5 565.6 110.5 564.2 110.7 563.6 Z" fill="#fff"/>
<path d="M115.3 563.1 L142.7 581.3"/>
<path d="M116.9 560.7 L145.7 576.4"/>
<path d="M123.3 570.7 L139.6 580.0"/>
<path d="M124.4 569.3 L140.7 578.3"/>
<ellipse cx="123.3" cy="566.0" rx="1.87" ry="1.87"/>
<ellipse cx="138.0" cy="576.0" rx="1.87" ry="1.87"/>
<ellipse cx="116.9" cy="562.3" rx="1.20" ry="1.20" stroke-width="0.9"/>
<path d="M144.7 575.3 L148.0 573.3"/>
<path d="M146.7 577.3 L150.0 575.3"/>
<path d="M144.7 581.3 C145.0 580.8 148.0 578.1 148.9 578.0 C149.8 577.9 154.2 579.3 155.3 580.0 C156.4 580.7 161.3 585.2 162.0 586.0 C162.7 586.8 163.8 588.6 163.3 589.5 C162.9 590.4 157.6 596.0 156.9 596.7 C156.2 597.3 156.1 598.2 155.1 597.2 C154.0 596.2 145.5 586.3 144.7 584.9 C143.8 583.6 144.3 581.9 144.7 581.3 Z" fill="#fff"/>
<ellipse cx="150.5" cy="583.3" rx="1.20" ry="1.20" stroke-width="0.9"/>
<path d="M148.0 588.0 L155.3 580.0"/>
<path d="M159.1 588.7 L169.3 594.7 L167.6 598.0 L157.3 592.4 Z" fill="#fff"/>
<path d="M161.3 590.0 L159.9 592.9" stroke-width="0.9"/>
<path d="M163.1 591.1 L161.6 594.0" stroke-width="0.9"/>
<path d="M164.8 592.1 L163.3 595.1" stroke-width="0.9"/>
<path d="M166.5 593.2 L165.1 596.1" stroke-width="0.9"/>
<path d="M168.3 594.3 L166.8 597.2" stroke-width="0.9"/>
<path d="M169.7 596.7 L176.7 602.0"/>
<path d="M122.0 588.0 L124.4 588.0 L124.4 596.4 L122.0 596.4 Z" fill="#fff"/>
<path d="M122.0 589.3 L124.4 590.0" stroke-width="0.9"/>
<path d="M122.0 590.9 L124.4 591.6" stroke-width="0.9"/>
<path d="M122.0 592.5 L124.4 593.2" stroke-width="0.9"/>
<path d="M122.0 594.1 L124.4 594.8" stroke-width="0.9"/>
<path d="M120.7 596.7 L125.7 596.7 L126.0 599.6 L124.7 602.0 L121.7 602.0 L120.4 599.6 Z" fill="#fff"/>
<path d="M120.7 598.3 L125.7 598.3"/>
<text class="n" transform="translate(207.3,514.5) scale(0.97,1)" text-anchor="middle">31</text>
<path d="M208.0 516.7 L204.0 539.1"/>
<text class="n" transform="translate(192.7,565.1) scale(0.97,1)" text-anchor="middle">35</text>
<path d="M190.7 568.0 L184.7 585.7"/>
<text class="n" transform="translate(117.3,625.1) scale(0.97,1)" text-anchor="middle">22</text>
<path d="M121.3 602.7 L118.0 614.0"/>
<path d="M160.7 598.7 L164.9 604.9"/>
<ellipse cx="166.3" cy="607.3" rx="2.40" ry="2.40"/>
<ellipse cx="166.3" cy="607.3" rx="1.07" ry="1.07" stroke-width="0.9"/>
<text class="n" transform="translate(153.7,627.8) scale(0.97,1)" text-anchor="middle">19</text>
<path d="M164.9 610.0 L158.7 618.7"/>
<path d="M170.0 598.0 L194.7 613.3"/>
<path d="M200.4 616.7 L203.7 618.7"/>
<path d="M198.0 614.3 L190.0 623.6"/>
<path d="M188.0 626.0 L186.7 627.6"/>
<path d="M184.7 630.0 L178.3 637.7"/>
<path d="M176.0 639.3 C176.1 639.2 176.4 638.3 176.7 638.3 C177.0 638.2 177.4 638.0 177.7 639.1 C178.1 640.1 178.5 643.7 178.7 644.7"/>
<path d="M176.7 641.3 L179.6 646.3"/>
<ellipse cx="180.4" cy="646.3" rx="3.20" ry="1.20" transform="rotate(-12 180.4 646.3)" stroke-width="1.1"/>
<ellipse cx="181.4" cy="648.3" rx="3.20" ry="1.20" transform="rotate(-12 181.4 648.3)" stroke-width="1.1"/>
<ellipse cx="182.4" cy="650.3" rx="3.20" ry="1.20" transform="rotate(-12 182.4 650.3)" stroke-width="1.1"/>
<ellipse cx="183.4" cy="652.3" rx="3.20" ry="1.20" transform="rotate(-12 183.4 652.3)" stroke-width="1.1"/>
<ellipse cx="184.4" cy="654.3" rx="3.20" ry="1.20" transform="rotate(-12 184.4 654.3)" stroke-width="1.1"/>
<ellipse cx="185.4" cy="656.3" rx="3.20" ry="1.20" transform="rotate(-12 185.4 656.3)" stroke-width="1.1"/>
<ellipse cx="186.4" cy="658.3" rx="3.20" ry="1.20" transform="rotate(-12 186.4 658.3)" stroke-width="1.1"/>
<ellipse cx="187.4" cy="660.3" rx="3.20" ry="1.20" transform="rotate(-12 187.4 660.3)" stroke-width="1.1"/>
<path d="M186.3 662.0 C186.4 662.6 186.8 664.7 187.3 665.3 C187.8 666.0 188.9 666.3 189.3 665.7 C189.7 665.2 189.7 662.6 189.7 662.0"/>
<path d="M188.0 666.0 L187.6 668.0"/>
<text class="n" transform="translate(190.0,697.1) scale(0.97,1)" text-anchor="middle">33</text>
<path d="M187.3 668.0 L189.7 687.3"/>
<path d="M164.9 656.9 C164.6 655.1 165.8 653.3 166.5 652.7 C167.3 652.0 170.4 651.4 171.3 651.6 C172.2 651.8 173.4 653.2 174.3 654.8 C175.2 656.4 178.8 663.7 179.1 665.3 C179.4 667.0 177.7 668.2 176.9 668.7 C176.2 669.2 173.5 669.8 172.7 669.7 C171.8 669.7 170.6 669.5 169.7 668.0 C168.8 666.5 165.3 658.7 164.9 656.9 Z" fill="#fff"/>
<path d="M165.5 656.7 C166.0 657.1 167.4 659.0 168.7 659.1 C169.9 659.2 172.0 658.0 172.9 657.3 C173.9 656.6 174.0 655.2 174.3 654.8"/>
<text class="n" transform="translate(164.0,701.1) scale(0.97,1)" text-anchor="middle">34</text>
<path d="M171.3 670.0 L166.0 690.7"/>
<text class="n" transform="translate(115.3,710.9) scale(0.97,1)" text-anchor="middle">39</text>
<path d="M124.0 707.1 L147.3 708.9"/>
<path d="M150.6 711.9 L153.4 711.9 L153.4 721.8 L150.6 721.8 Z" fill="#fff"/>
<path d="M150.6 713.4 L153.4 714.1" stroke-width="0.9"/>
<path d="M150.6 715.1 L153.4 715.8" stroke-width="0.9"/>
<path d="M150.6 716.8 L153.4 717.5" stroke-width="0.9"/>
<path d="M150.6 718.5 L153.4 719.2" stroke-width="0.9"/>
<path d="M150.6 720.2 L153.4 720.9" stroke-width="0.9"/>
<path d="M148.6 707.8 L150.0 705.5 L154.0 705.5 L155.7 707.8 L155.4 710.3 L153.7 712.0 L150.3 712.0 L148.6 710.3 Z" stroke-width="1.5" fill="#fff"/>
<path d="M148.9 709.0 L155.4 709.0"/>
<path d="M150.8 705.8 L150.8 712.0"/>
<path d="M153.1 705.8 L153.1 712.0"/>
<path d="M151.6 724.7 L151.6 730.0"/>
<ellipse cx="203.7" cy="542.6" rx="2.71" ry="2.71" fill="#fff"/>
<ellipse cx="203.7" cy="542.6" rx="1.19" ry="1.19" stroke-width="0.9"/>
<path d="M208.0 545.5 L212.4 548.2" stroke-dasharray="3.5 2.5"/>
<text class="n" transform="translate(228.9,523.1) scale(0.97,1)" text-anchor="middle">30</text>
<path d="M225.9 526.0 L218.9 547.7"/>
<path d="M218.3 548.2 L226.8 554.2 L225.0 557.2 L216.4 552.9 Z" fill="#fff"/>
<path d="M222.7 551.3 L221.6 553.9" stroke-width="0.9"/>
<path d="M224.0 552.2 L222.9 554.8" stroke-width="0.9"/>
<path d="M225.3 553.1 L224.2 555.7" stroke-width="0.9"/>
<ellipse cx="216.6" cy="550.5" rx="2.17" ry="3.57" transform="rotate(-32 216.6 550.5)" fill="#fff"/>
<path d="M228.1 558.0 L235.7 561.7"/>
<text class="n" transform="translate(254.9,540.4) scale(0.97,1)" text-anchor="middle">28</text>
<path d="M252.5 542.8 L245.4 560.1"/>
<text class="n" transform="translate(274.1,550.6) scale(0.97,1)" text-anchor="middle">29</text>
<path d="M271.4 553.1 L260.6 572.6"/>
<path d="M244.3 583.6 C244.5 582.9 245.8 579.8 246.5 579.1 C247.1 578.4 249.7 577.0 250.8 576.4 C251.9 575.7 256.3 573.1 257.3 572.8 C258.4 572.5 260.7 572.9 261.2 573.4 C261.8 574.0 262.8 577.1 262.9 578.0 C263.0 578.9 262.7 581.4 262.2 582.3 C261.8 583.3 259.3 586.6 258.4 587.7 C257.5 588.9 254.0 593.6 253.2 594.2 C252.5 594.9 251.5 594.3 250.8 594.0 C250.2 593.8 247.1 592.4 246.5 591.6 C245.8 590.9 244.5 587.7 244.3 586.9 C244.1 586.1 244.1 584.4 244.3 583.6 Z" fill="#fff"/>
<path d="M244.3 583.6 C245.0 583.3 249.5 581.5 250.8 580.7 C252.1 579.9 256.3 576.6 257.3 575.8 C258.4 575.1 260.8 573.7 261.2 573.4"/>
<path d="M248.7 582.3 L249.5 584.0"/>
<path d="M260.0 578.0 L261.1 579.6"/>
<path d="M247.4 569.3 L252.5 572.4"/>
<path d="M179.5 585.8 L180.2 585.5 L182.8 586.8 L179.9 592.8 L177.2 591.5 L177.0 590.8 Z" stroke-width="1.5" fill="#fff"/>
<path d="M178.8 587.3 L181.9 588.8"/>
<path d="M177.7 589.3 L180.9 590.8"/>
<path d="M183.2 586.1 L184.1 586.5 L180.4 594.0 L179.5 593.6 Z" stroke-width="1.5" fill="#fff"/>
<path d="M182.9 588.8 L195.4 595.0 L194.0 597.9 L181.5 591.7 Z" fill="#fff"/>
<path d="M186.1 590.3 L185.5 593.7" stroke-width="1.0"/>
<path d="M187.6 591.1 L187.1 594.4" stroke-width="1.0"/>
<path d="M189.2 591.9 L188.6 595.2" stroke-width="1.0"/>
<path d="M190.8 592.6 L190.2 596.0" stroke-width="1.0"/>
<path d="M192.3 593.4 L191.7 596.8" stroke-width="1.0"/>
<path d="M193.9 594.2 L193.3 597.5" stroke-width="1.0"/>
<path d="M196.1 597.0 L198.3 598.1"/>
<path d="M214.6 565.4 C214.8 564.9 215.2 562.7 215.7 562.0 C216.3 561.3 217.5 560.6 218.3 560.7 C219.1 560.7 220.6 561.4 221.0 562.2 C221.5 563.0 221.6 564.8 221.6 566.1 C221.5 567.3 220.8 569.8 220.7 570.4"/>
<path d="M214.6 565.4 C214.7 566.0 215.5 569.0 215.3 570.4 C215.1 571.9 213.6 576.2 212.9 578.0 C212.3 579.8 210.2 583.9 209.7 585.6 C209.1 587.2 208.3 590.7 208.1 592.1 C208.0 593.5 208.3 596.3 208.6 597.5 C208.9 598.7 210.5 601.5 210.7 602.0"/>
<path d="M221.0 570.4 C222.6 569.6 238.1 561.2 240.0 560.2 C241.9 559.3 243.0 559.0 243.5 559.0 C244.0 559.1 245.7 560.2 246.1 560.7 C246.4 561.1 247.3 563.5 247.4 564.1 C247.4 564.7 246.8 566.8 246.5 567.8 C246.2 568.8 244.1 574.2 243.2 575.8 C242.4 577.5 236.9 586.4 235.9 587.7 C234.9 589.1 232.3 592.0 231.5 592.6 C230.8 593.3 227.8 595.0 227.0 595.3 C226.2 595.6 222.2 596.3 221.8 596.4"/>
<path d="M221.8 572.8 L240.2 563.0"/>
<ellipse cx="218.3" cy="565.2" rx="1.30" ry="1.30" stroke-width="0.9"/>
<ellipse cx="241.6" cy="566.1" rx="1.84" ry="2.71" transform="rotate(20 241.6 566.1)"/>
<ellipse cx="218.3" cy="583.4" rx="1.95" ry="1.95"/>
<ellipse cx="215.1" cy="590.1" rx="1.52" ry="1.52" stroke-width="0.9"/>
<path d="M225.9 576.0 C226.5 575.0 230.1 571.3 231.3 570.6 C232.5 570.0 237.6 568.9 238.0 569.3 C238.5 569.8 236.6 573.8 235.7 575.0 C234.8 576.2 230.2 580.7 229.2 581.2 C228.1 581.8 225.8 581.2 225.5 580.7 C225.2 580.2 225.3 577.1 225.9 576.0 Z"/>
<path d="M228.1 575.8 L233.5 571.5"/>
<path d="M229.2 578.0 L235.1 573.1"/>
<path d="M227.0 579.6 L231.3 575.8"/>
<path d="M218.9 569.3 C219.0 570.2 219.7 574.1 220.0 575.8 C220.2 577.6 220.6 580.5 220.5 582.3 C220.4 584.2 219.8 587.9 219.4 589.9 C219.1 591.9 218.0 596.5 217.8 597.5"/>
<path d="M221.6 574.7 C221.8 575.8 223.2 580.2 223.2 582.3 C223.2 584.5 222.2 588.9 221.6 591.0 C221.0 593.1 219.2 597.1 218.9 598.0"/>
<path d="M211.8 584.5 L216.2 597.5"/>
<path d="M213.5 582.3 L217.8 595.3"/>
<path d="M215.6 591.5 C216.0 592.0 218.0 594.0 218.3 595.3 C218.6 596.7 218.3 600.2 217.9 601.8 C217.5 603.4 215.6 606.5 215.3 607.2"/>
<path d="M218.3 586.7 C218.6 587.4 220.3 590.5 220.5 592.1 C220.7 593.7 220.4 597.0 220.1 598.6 C219.7 600.2 218.2 603.3 217.9 604.0"/>
<path d="M212.4 597.5 C212.7 598.2 214.3 601.5 214.5 602.9 C214.8 604.4 214.1 607.6 214.0 608.3"/>
<path d="M220.5 595.3 L223.2 596.2"/>
<path d="M198.8 601.7 C198.9 600.7 199.9 598.2 200.4 597.7 C200.9 597.1 202.8 596.4 203.3 596.5 C203.9 596.5 205.5 597.5 205.9 598.0 C206.3 598.5 207.1 601.0 207.6 601.5 C208.0 602.0 209.8 602.7 210.3 603.3 C210.8 604.0 211.9 607.4 212.5 607.9 C213.1 608.5 216.2 608.4 216.6 608.8 C217.1 609.3 217.1 611.7 217.1 612.5 C217.1 613.3 216.6 616.2 216.7 617.1 C216.8 618.0 217.9 620.6 218.0 621.7 C218.1 622.8 218.1 626.8 217.5 628.1 C217.0 629.4 213.7 633.1 212.5 634.5 C211.3 635.9 206.3 640.9 205.2 641.8 C204.0 642.8 201.9 644.1 201.0 644.1 C200.2 644.1 197.8 642.5 196.9 641.8 C196.1 641.2 192.9 638.6 192.5 637.8 C192.1 637.0 192.5 634.4 192.9 633.6 C193.2 632.8 195.2 630.7 196.0 629.9 C196.8 629.1 199.9 626.3 200.6 625.3 C201.3 624.4 202.9 621.7 203.3 620.8 C203.7 619.8 204.7 617.1 204.7 616.2 C204.8 615.3 204.1 612.2 203.8 611.6 C203.4 610.9 201.6 610.2 201.1 609.8 C200.6 609.3 199.2 608.0 198.9 607.2 C198.7 606.4 198.6 602.6 198.8 601.7 Z"/>
<ellipse cx="213.0" cy="625.3" rx="3.12" ry="2.57" transform="rotate(10 213.0 625.3)"/>
<ellipse cx="213.0" cy="625.3" rx="1.28" ry="1.28" stroke-width="0.9"/>
<path d="M210.2 606.5 C209.9 606.7 208.7 606.7 208.4 607.5 C208.1 608.2 208.1 610.3 208.4 611.1 C208.7 612.0 209.6 612.5 210.2 612.5 C210.8 612.5 211.5 611.6 211.8 611.4"/>
<path d="M204.7 603.3 C204.3 603.2 202.7 602.2 202.0 602.4 C201.2 602.6 200.3 604.0 200.1 604.7 C200.0 605.4 200.9 606.2 201.0 606.5"/>
<path d="M198.8 607.0 L197.8 609.8 L199.7 611.1 L201.0 609.6"/>
<path d="M206.1 607.9 L204.7 615.3"/>
<path d="M213.0 612.5 L214.8 615.3"/>
<path d="M196.0 635.0 L197.4 637.3"/>
<path d="M201.5 633.6 L201.0 638.2 L203.3 635.0 L204.7 637.7 L206.5 632.7"/>
<path d="M207.9 629.0 L206.5 632.7"/>
<path d="M195.1 636.3 C195.9 636.8 199.7 640.0 201.5 640.0 C203.3 640.0 207.0 637.7 208.8 636.3 C210.7 635.0 214.4 630.8 215.3 629.9"/>
<path d="M216.2 627.2 L221.7 630.1"/>
<path d="M224.0 634.5 C224.0 633.5 224.7 631.5 225.3 630.8 C225.9 630.2 228.1 629.0 229.0 629.0 C229.9 629.0 232.0 630.1 232.7 630.8 C233.3 631.5 234.5 633.9 234.5 635.0 C234.5 636.0 233.3 638.8 232.7 639.5 C232.0 640.2 229.9 641.0 229.0 640.9 C228.1 640.9 225.9 639.8 225.3 639.1 C224.7 638.3 224.0 635.5 224.0 634.5 Z" fill="#fff"/>
<ellipse cx="230.1" cy="635.2" rx="2.48" ry="2.48" stroke-width="1.1"/>
<path d="M231.3 634.0 C231.0 634.1 229.8 634.1 229.5 634.5 C229.2 634.9 229.2 636.0 229.5 636.3 C229.7 636.7 230.8 636.7 231.0 636.8" stroke-width="0.9"/>
<path d="M225.8 630.8 L226.4 639.1" stroke-width="1.0"/>
<text class="n" transform="translate(225.3,666.7) scale(0.97,1)" text-anchor="middle">32</text>
<path d="M225.3 640.0 L225.3 655.6"/>
<path d="M223.5 596.0 L246.9 611.1 L246.9 639.3"/>
<path d="M246.9 642.8 L246.9 648.7"/>
<path d="M246.9 650.3 L246.9 678.5 L219.8 694.5"/>
<path d="M257.3 644.7 C257.9 645.7 261.0 650.0 261.7 652.7 C262.5 655.3 262.9 658.8 262.8 664.7 C262.7 670.5 261.6 688.8 260.9 696.7 C260.3 704.5 258.3 719.0 258.0 723.3 C257.7 727.6 257.8 727.9 258.5 728.9 C259.2 729.9 260.9 731.1 263.3 730.8 C265.8 730.5 273.1 728.6 276.7 726.7 C280.2 724.8 287.3 720.0 290.0 716.7 C292.7 713.4 296.0 704.0 296.9 702.0"/>
<path d="M263.3 644.7 C264.2 645.9 268.7 651.3 269.7 654.0 C270.8 656.7 271.4 659.0 271.3 664.7 C271.2 670.4 269.6 688.8 268.9 696.7 C268.3 704.5 266.5 719.2 266.3 723.3 C266.1 727.4 267.2 726.8 267.3 727.3" stroke-dasharray="14 3 2.5 3"/>
<path d="M271.3 716.0 L290.0 704.0"/>
<path d="M272.0 648.7 L298.0 634.0"/>
<path d="M274.0 655.3 L301.3 637.7"/>
<ellipse cx="278.7" cy="675.3" rx="4.00" ry="6.93" transform="rotate(25 278.7 675.3)"/>
<path d="M277.3 671.3 C277.0 672.0 275.4 673.9 275.3 675.3 C275.2 676.8 275.9 679.1 276.7 680.0 C277.4 680.9 279.4 680.6 280.0 680.7"/>
<text class="n" transform="translate(300.8,592.5) scale(0.97,1)" text-anchor="middle">32</text>
<path d="M300.8 597.5 L300.8 613.8"/>
<text class="n" transform="translate(333.0,592.0) scale(0.97,1)" text-anchor="middle">25</text>
<path d="M331.2 597.5 L328.8 611.2"/>
<text class="n" transform="translate(364.0,597.8) scale(0.97,1)" text-anchor="middle">24</text>
<path d="M361.7 600.7 L357.5 616.7"/>
<path d="M356.0 631.3 L367.3 638.3"/>
<text class="n" transform="translate(384.7,621.8) scale(0.97,1)" text-anchor="middle">26</text>
<path d="M383.3 625.3 L379.3 641.3"/>
<text class="n" transform="translate(402.0,628.5) scale(0.97,1)" text-anchor="middle">27</text>
<path d="M398.7 632.0 L388.7 646.7"/>
<path d="M382.7 648.0 C383.0 647.7 383.8 646.4 384.7 646.3 C385.6 646.1 387.3 646.6 388.0 647.1 C388.7 647.6 389.0 648.6 388.9 649.3 C388.8 650.1 387.9 651.3 387.3 651.6 C386.7 651.9 385.9 650.9 385.3 651.1 C384.8 651.2 384.2 652.2 384.0 652.4"/>
<path d="M383.1 648.7 L384.0 652.4"/>
<path d="M294.2 622.5 C294.7 623.2 297.2 625.8 298.3 627.5 C299.5 629.2 302.0 632.9 302.9 635.0 C303.9 637.1 305.0 641.1 305.4 643.3 C305.9 645.6 306.2 649.8 306.2 651.7 C306.3 653.6 305.9 656.7 305.8 657.5"/>
<path d="M307.5 623.3 C307.8 623.7 309.5 624.7 310.0 625.8 C310.5 626.9 311.2 629.3 311.3 631.7 C311.5 634.0 311.4 640.2 311.3 643.3 C311.2 646.4 310.6 653.4 310.5 655.0"/>
<path d="M309.3 625.4 C309.5 626.2 310.3 629.3 310.4 631.7 C310.6 634.1 310.5 640.3 310.4 643.3 C310.3 646.3 309.8 652.7 309.7 654.2"/>
<path d="M296.2 618.8 C296.3 618.1 297.0 616.3 297.5 615.8 C298.0 615.3 299.6 614.4 300.4 614.3 C301.2 614.2 303.8 614.7 304.6 615.0 C305.4 615.3 306.8 616.4 307.1 617.1 C307.4 617.8 307.5 620.0 307.3 620.8 C307.1 621.7 306.0 623.7 305.4 624.2 C304.8 624.7 302.9 625.0 302.1 625.0 C301.3 625.0 299.3 624.1 298.8 623.8 C298.2 623.4 297.4 622.2 297.1 621.7 C296.8 621.1 296.2 619.4 296.2 618.8 Z" fill="#fff"/>
<ellipse cx="303.5" cy="620.0" rx="2.25" ry="3.17" transform="rotate(15 303.5 620.0)" stroke-width="1.1"/>
<path d="M304.6 618.5 C304.3 618.6 303.2 618.9 302.9 619.3 C302.6 619.8 302.7 620.8 302.9 621.2 C303.2 621.7 304.1 621.7 304.3 621.8" stroke-width="0.9"/>
<path d="M299.2 615.4 L298.8 623.8" stroke-width="1.0"/>
<path d="M313.8 625.0 C313.9 624.2 314.8 621.6 315.4 620.8 C316.0 620.1 319.0 618.2 320.0 617.5 C321.0 616.8 324.2 614.8 325.0 614.2 C325.8 613.5 327.7 611.5 328.3 611.2 C329.0 611.0 330.8 611.4 331.2 611.7 C331.8 612.0 333.2 613.6 333.3 614.2 C333.5 614.8 333.2 616.7 332.9 617.5 C332.7 618.3 331.4 621.4 330.8 622.5 C330.3 623.6 328.2 627.4 327.5 628.3 C326.8 629.3 324.9 631.6 324.2 632.1 C323.4 632.6 320.8 633.3 320.0 633.3 C319.2 633.3 316.8 632.5 316.2 632.1 C315.7 631.6 314.4 629.5 314.2 628.8 C313.9 628.0 313.6 625.8 313.8 625.0 Z" fill="#fff"/>
<path d="M316.7 623.8 C317.0 623.0 318.6 621.4 319.2 621.0 C319.8 620.6 322.0 619.6 322.5 619.6 C323.0 619.6 324.3 620.3 324.3 620.8 C324.4 621.4 323.4 624.0 323.2 625.0 C322.9 626.0 322.2 630.2 321.7 630.8 C321.2 631.5 318.9 631.6 318.3 631.3 C317.8 631.1 316.5 629.1 316.3 628.3 C316.2 627.6 316.4 624.5 316.7 623.8 Z"/>
<ellipse cx="319.2" cy="625.7" rx="2.00" ry="2.00" fill="#444"/>
<ellipse cx="319.2" cy="625.7" rx="0.83" ry="0.83" fill="#fff"/>
<ellipse cx="330.4" cy="615.0" rx="1.83" ry="1.83"/>
<ellipse cx="330.4" cy="615.0" rx="0.83" ry="0.83" fill="#333"/>
<path d="M321.7 619.3 L327.1 614.8"/>
<path d="M333.8 617.5 L342.5 623.5"/>
<path d="M318.8 661.7 C318.7 661.1 319.5 657.7 320.0 656.7 C320.5 655.6 323.4 650.6 324.2 649.2 C324.9 647.8 328.3 641.5 329.2 640.0 C330.1 638.5 334.0 632.9 335.0 631.7 C336.0 630.4 340.3 626.0 341.7 625.0 C343.0 624.0 349.3 620.8 350.8 620.0 C352.4 619.2 358.9 616.2 360.0 615.8 C361.1 615.5 363.2 615.3 363.8 615.4 C364.3 615.6 366.1 617.0 366.3 617.5 C366.5 618.0 366.4 620.8 366.2 621.7 C366.1 622.5 364.7 626.4 364.2 627.5 C363.6 628.6 360.8 633.8 360.0 635.0 C359.2 636.2 355.1 641.4 354.2 642.5 C353.2 643.6 349.5 647.3 348.3 648.3 C347.2 649.4 341.4 654.0 340.0 655.0 C338.6 656.0 333.0 659.3 331.7 660.0 C330.3 660.7 325.1 662.6 324.2 662.9 C323.3 663.2 321.3 663.6 320.8 663.5 C320.4 663.4 318.8 662.2 318.8 661.7 Z" fill="#fff"/>
<path d="M320.7 661.8 C320.8 661.4 321.4 657.9 321.8 656.8 C322.3 655.8 325.2 650.7 326.0 649.3 C326.8 648.0 330.1 642.2 331.0 640.8 C331.9 639.4 335.8 633.9 336.8 632.7 C337.9 631.4 342.2 627.0 343.5 626.0 C344.8 625.0 350.2 621.8 351.8 621.0 C353.5 620.2 362.0 616.8 362.9 616.4"/>
<ellipse cx="341.7" cy="638.3" rx="2.25" ry="3.17" transform="rotate(20 341.7 638.3)"/>
<path d="M343.3 636.7 C343.0 636.8 341.6 636.8 341.2 637.3 C340.9 637.9 340.8 639.2 341.0 639.8 C341.2 640.4 342.2 640.7 342.5 640.8"/>
<ellipse cx="353.8" cy="628.8" rx="1.75" ry="2.83" transform="rotate(20 353.8 628.8)"/>
<path d="M355.2 627.1 C354.9 627.2 353.8 627.4 353.5 627.9 C353.2 628.4 353.4 629.8 353.3 630.2"/>
<path d="M355.8 631.0 L367.5 638.3"/>
<path d="M368.3 637.3 L375.7 641.7 L374.5 643.7 L367.1 639.3 Z" fill="#fff"/>
<path d="M368.8 637.7 L367.9 639.7" stroke-width="1.0"/>
<path d="M370.0 638.4 L369.2 640.4" stroke-width="1.0"/>
<path d="M371.2 639.2 L370.4 641.2" stroke-width="1.0"/>
<path d="M372.5 639.9 L371.7 641.9" stroke-width="1.0"/>
<path d="M373.8 640.7 L372.9 642.7" stroke-width="1.0"/>
<ellipse cx="377.5" cy="643.8" rx="3.08" ry="3.08" fill="#fff"/>
<path d="M376.2 642.9 C376.5 642.8 377.4 641.9 377.9 642.1 C378.4 642.2 379.0 643.5 379.2 643.8"/>
<path d="M294.2 660.0 C294.1 659.1 294.9 657.3 295.4 656.7 C296.0 656.0 298.0 654.7 298.8 654.6 C299.5 654.5 300.9 655.4 301.7 655.8 C302.4 656.3 304.3 657.5 305.0 658.3 C305.7 659.2 307.4 662.2 307.5 663.3 C307.6 664.5 306.4 667.6 305.8 668.3 C305.3 669.0 303.6 669.5 302.9 669.3 C302.2 669.1 300.4 667.3 299.6 666.7 C298.8 666.1 296.5 664.9 295.8 664.2 C295.2 663.4 294.2 660.9 294.2 660.0 Z" fill="#fff"/>
<ellipse cx="300.8" cy="662.1" rx="1.75" ry="2.50" transform="rotate(-15 300.8 662.1)"/>
<path d="M302.1 660.8 C301.8 660.9 300.9 660.8 300.7 661.2 C300.4 661.7 300.5 663.0 300.4 663.3"/>
<path d="M306.2 659.6 L311.7 656.2 L315.4 657.5 L318.3 662.1"/>
<path d="M312.5 661.7 C313.2 662.2 318.6 665.3 320.0 666.7 C321.4 668.0 325.6 673.8 326.7 675.0 C327.8 676.2 330.5 677.8 330.8 678.3 C331.2 678.9 330.2 680.2 330.0 680.5 C329.8 680.8 328.5 680.8 328.3 680.8"/>
<path d="M315.0 657.5 L325.0 663.3 L327.9 664.3 L327.9 671.7"/>
<path d="M322.9 664.2 L322.9 669.3"/>
<path d="M320.0 673.3 L330.0 678.8"/>
<path d="M321.3 672.0 L331.1 677.5"/>
<path d="M310.8 663.3 L311.7 675.0" stroke-dasharray="5 3"/>
<path d="M316.0 665.8 L314.3 676.7" stroke-dasharray="5 3"/>
<path d="M316.8 678.0 L320.8 680.0" stroke-dasharray="5 3"/>
<path d="M321.0 680.0 L320.4 682.5"/>
<path d="M321.0 680.0 L322.9 680.7"/>
<path d="M320.7 681.2 L322.1 681.7"/>
<path d="M305.8 668.3 C305.9 668.6 306.2 670.5 306.7 670.8 C307.1 671.2 309.3 671.1 310.0 671.7 C310.7 672.2 313.1 675.2 313.8 676.7 C314.4 678.2 316.0 685.3 316.7 686.7 C317.4 688.0 320.1 690.2 320.8 690.2 C321.6 690.2 323.4 687.7 324.2 686.7 C324.9 685.7 327.9 680.8 328.3 680.2"/>
<path d="M300.4 675.4 C300.7 674.9 301.7 674.3 302.9 675.0 C304.1 675.7 311.4 681.3 312.5 682.5 C313.6 683.7 314.2 685.9 314.2 686.7 C314.1 687.5 312.2 690.1 311.7 690.5 C311.2 690.9 309.8 691.1 309.2 690.8 C308.6 690.6 306.5 689.0 305.8 688.3 C305.2 687.7 303.5 685.0 302.9 684.2 C302.4 683.3 300.7 680.9 300.4 680.0 C300.2 679.1 300.2 675.9 300.4 675.4 Z" fill="#fff"/>
<ellipse cx="310.8" cy="686.7" rx="1.75" ry="2.50" transform="rotate(-15 310.8 686.7)"/>
<path d="M300.4 675.4 C299.9 676.0 297.1 678.3 295.8 680.0 C294.5 681.7 290.2 688.3 289.2 690.0 C288.1 691.7 286.9 693.2 286.7 694.2 C286.4 695.1 286.5 697.3 286.8 697.9 C287.1 698.5 288.9 699.4 289.2 699.6"/>
<path d="M302.9 684.2 L293.3 694.2 L290.8 698.8"/>
<path d="M305.0 687.7 L295.8 696.0"/>
<path d="M291.2 690.8 L298.3 682.1"/>
<ellipse cx="292.1" cy="696.7" rx="1.00" ry="1.00" stroke-width="0.9"/>
<path d="M295.3 698.7 L310.8 706.0"/>
<path d="M325.3 717.5 L324.6 717.7 L322.1 716.2 L325.3 710.9 L327.8 712.4 L328.0 713.1 Z" stroke-width="1.5" fill="#fff"/>
<path d="M326.1 716.2 L323.2 714.4"/>
<path d="M327.2 714.4 L324.2 712.7"/>
<path d="M321.7 716.8 L320.9 716.3 L324.8 709.8 L325.7 710.3 Z" stroke-width="1.5" fill="#fff"/>
<path d="M322.0 714.4 L310.8 707.6 L312.4 704.9 L323.7 711.7 Z" fill="#fff"/>
<path d="M319.8 713.1 L320.6 709.8" stroke-width="1.0"/>
<path d="M318.3 712.2 L319.1 708.9" stroke-width="1.0"/>
<path d="M316.8 711.3 L317.6 708.0" stroke-width="1.0"/>
<path d="M315.3 710.3 L316.1 707.1" stroke-width="1.0"/>
<path d="M313.8 709.4 L314.6 706.2" stroke-width="1.0"/>
<path d="M312.3 708.5 L313.1 705.3" stroke-width="1.0"/>
<text class="n" transform="translate(314.0,745.8) scale(0.97,1)" text-anchor="middle">35</text>
<path d="M322.7 718.3 L315.3 734.7"/>
<path d="M324.7 683.3 L342.5 694.5"/>
<path d="M345.5 696.4 L348.4 698.3"/>
<path d="M351.6 700.3 L391.6 724.9"/>
<text class="n" transform="translate(351.6,528.5) scale(0.97,1)" text-anchor="middle">42</text>
<path d="M360.2 523.4 L368.5 523.4"/>
<text class="n" transform="translate(492.4,405.5) scale(0.97,1)" text-anchor="middle">56</text>
<path d="M490.2 409.2 L485.2 425.5"/>
<path d="M485.5 433.1 L484.8 433.2 L482.5 431.7 L485.6 427.0 L487.9 428.5 L488.1 429.2 Z" stroke-width="1.5" fill="#fff"/>
<path d="M486.2 431.9 L483.5 430.1"/>
<path d="M487.3 430.3 L484.6 428.5"/>
<path d="M482.1 432.2 L481.4 431.7 L485.2 425.9 L486.0 426.4 Z" stroke-width="1.5" fill="#fff"/>
<path d="M482.5 430.1 L470.3 422.0 L472.0 419.5 L484.1 427.6 Z" fill="#fff"/>
<path d="M480.0 428.5 L480.7 425.2" stroke-width="1.0"/>
<path d="M478.1 427.2 L478.7 423.9" stroke-width="1.0"/>
<path d="M476.2 425.9 L476.8 422.6" stroke-width="1.0"/>
<path d="M474.2 424.6 L474.8 421.3" stroke-width="1.0"/>
<path d="M472.3 423.3 L472.9 420.1" stroke-width="1.0"/>
<path d="M470.1 420.1 L454.7 412.1 L454.3 445.0"/>
<path d="M454.3 448.2 L454.3 451.5"/>
<path d="M454.0 455.4 L453.4 483.6 L444.1 478.6"/>
<path d="M434.0 474.9 C434.2 474.5 434.7 472.2 435.3 471.5 C436.0 470.8 437.8 469.5 438.7 469.6 C439.6 469.7 441.5 471.1 442.1 472.0 C442.8 472.9 443.4 474.8 443.5 476.0 C443.5 477.2 443.1 480.1 442.7 481.3 C442.2 482.6 440.8 483.7 440.3 485.3 C439.7 486.9 439.0 491.9 438.7 493.3 C438.4 494.8 438.1 495.6 438.0 496.0"/>
<path d="M434.0 474.9 C433.9 475.6 433.7 478.4 433.3 480.0 C433.0 481.6 432.0 484.9 431.3 486.7 C430.6 488.4 428.9 491.9 428.0 493.3 C427.1 494.8 425.1 496.8 424.7 497.3"/>
<path d="M437.6 472.3 C437.4 473.3 436.8 477.7 436.3 480.0 C435.7 482.3 434.3 487.3 433.6 489.3 C432.9 491.3 431.1 494.2 430.7 494.9"/>
<ellipse cx="441.3" cy="476.7" rx="1.33" ry="1.33" stroke-width="0.9"/>
<ellipse cx="426.9" cy="486.9" rx="1.07" ry="1.07" stroke-width="0.9"/>
<path d="M424.7 497.3 C424.0 497.0 420.1 495.4 418.7 494.7 C417.2 494.0 413.3 491.9 412.0 491.5 C410.7 491.1 408.3 491.0 407.5 491.3 C406.6 491.7 404.9 493.8 404.7 494.7 C404.4 495.5 404.9 497.8 405.3 498.7 C405.8 499.5 406.6 500.9 408.8 502.1 C411.0 503.4 421.6 508.3 424.0 509.3 C426.4 510.4 428.7 510.7 429.3 510.9"/>
<path d="M412.0 496.0 C411.7 495.9 410.4 495.1 410.0 495.3 C409.6 495.6 409.1 497.0 409.3 497.6 C409.6 498.2 411.0 498.5 411.3 498.7"/>
<path d="M424.7 504.3 L436.0 497.6"/>
<path d="M426.7 509.3 L438.7 498.9"/>
<path d="M438.0 496.0 C439.2 497.2 446.7 504.5 448.0 506.7 C449.3 508.8 449.0 513.1 448.8 514.7 C448.6 516.2 446.9 519.4 446.7 520.0"/>
<path d="M438.7 509.3 L446.7 506.7"/>
<path d="M429.3 510.9 L438.7 514.1 L438.7 518.9"/>
<path d="M438.7 493.3 L438.7 509.3"/>
<path d="M433.3 525.6 C433.3 524.6 434.7 520.8 435.3 520.0 C436.0 519.2 438.9 517.3 440.0 517.3 C441.1 517.3 445.3 519.1 446.7 520.0 C448.1 520.9 453.2 525.6 454.0 526.7 C454.8 527.7 455.1 529.7 454.8 530.7 C454.5 531.6 451.3 535.4 450.7 536.0 C450.0 536.6 449.5 537.4 448.0 536.8 C446.5 536.2 437.5 530.7 436.0 529.6 C434.5 528.5 433.4 526.6 433.3 525.6 Z" fill="#fff"/>
<ellipse cx="443.7" cy="524.3" rx="2.93" ry="2.40"/>
<path d="M437.3 521.3 L449.3 532.0"/>
<path d="M446.7 520.0 L442.7 528.0"/>
<path d="M449.3 526.7 L452.7 530.0"/>
<path d="M448.0 528.7 L451.3 532.0"/>
<path d="M426.0 526.9 C426.1 526.4 426.0 524.3 426.7 523.5 C427.3 522.6 429.0 521.9 430.0 522.0 C431.0 522.1 432.1 523.1 432.7 524.0 C433.2 524.9 433.2 526.8 433.3 527.3"/>
<path d="M427.3 526.7 C427.5 526.3 427.7 525.1 428.3 524.7 C428.8 524.2 430.3 524.1 430.7 524.0"/>
<path d="M426.7 510.7 L422.4 518.7"/>
<path d="M421.1 520.8 L420.0 522.9"/>
<path d="M418.7 525.3 L416.0 530.1 L407.5 523.5"/>
<text class="n" transform="translate(392.3,546.5) scale(0.97,1)" text-anchor="middle">46</text>
<path d="M392.3 535.3 L392.3 514.0"/>
<path d="M394.9 511.3 L406.0 518.9 L404.3 521.6 L393.3 514.0 Z" fill="#fff"/>
<ellipse cx="392.0" cy="509.3" rx="3.73" ry="3.73" fill="#fff"/>
<ellipse cx="392.0" cy="509.3" rx="1.33" ry="1.33" stroke-width="0.9"/>
<path d="M402.7 517.1 L401.3 519.3"/>
<ellipse cx="459.7" cy="538.4" rx="3.73" ry="3.73" fill="#fff"/>
<ellipse cx="459.7" cy="538.4" rx="1.73" ry="1.73"/>
<text class="n" transform="translate(443.7,575.8) scale(0.97,1)" text-anchor="middle">47</text>
<path d="M458.0 542.0 L446.7 564.0"/>
<path d="M454.7 533.3 L457.3 535.5"/>
<text class="n" transform="translate(468.7,477.1) scale(0.97,1)" text-anchor="middle">45</text>
<path d="M468.0 480.0 L465.3 501.3"/>
<path d="M458.0 509.6 C457.6 508.4 459.3 505.2 460.0 504.3 C460.7 503.3 463.1 501.6 464.0 501.6 C464.9 501.6 467.4 503.3 468.0 504.0 C468.6 504.7 469.1 506.8 468.8 508.0 C468.5 509.2 466.0 513.2 465.3 514.0 C464.7 514.8 464.2 515.2 463.3 514.7 C462.5 514.2 458.4 510.8 458.0 509.6 Z" fill="#fff"/>
<ellipse cx="464.0" cy="505.6" rx="0.80" ry="0.80" stroke-width="0.9"/>
<ellipse cx="461.3" cy="510.0" rx="0.53" ry="0.53" stroke-width="0.9"/>
<path d="M488.3 480.3 C488.6 479.6 489.0 477.4 490.0 476.8 C491.0 476.2 492.2 476.3 493.3 477.1 C494.4 477.8 495.2 478.7 495.5 480.7 C495.7 482.6 494.8 485.5 494.7 486.7"/>
<path d="M488.3 480.3 L475.3 502.9"/>
<path d="M494.7 486.7 L484.3 510.7"/>
<path d="M494.9 483.3 L482.4 506.7" stroke-width="0.9"/>
<path d="M488.6 481.3 L494.3 482.7" stroke-width="1.0"/>
<path d="M488.6 482.0 L491.9 482.8" stroke-width="0.8"/>
<path d="M487.8 482.7 L493.5 484.1" stroke-width="1.0"/>
<path d="M487.8 483.4 L491.1 484.2" stroke-width="0.8"/>
<path d="M487.0 484.1 L492.7 485.5" stroke-width="1.0"/>
<path d="M487.0 484.8 L490.3 485.6" stroke-width="0.8"/>
<path d="M486.2 485.5 L491.9 486.9" stroke-width="1.0"/>
<path d="M486.2 486.2 L489.5 487.0" stroke-width="0.8"/>
<path d="M485.4 486.9 L491.1 488.3" stroke-width="1.0"/>
<path d="M485.4 487.6 L488.7 488.4" stroke-width="0.8"/>
<path d="M484.6 488.3 L490.3 489.7" stroke-width="1.0"/>
<path d="M484.6 489.0 L487.9 489.8" stroke-width="0.8"/>
<path d="M483.8 489.7 L489.5 491.1" stroke-width="1.0"/>
<path d="M483.8 490.4 L487.1 491.2" stroke-width="0.8"/>
<path d="M483.0 491.1 L488.7 492.5" stroke-width="1.0"/>
<path d="M483.0 491.8 L486.3 492.6" stroke-width="0.8"/>
<path d="M482.2 492.5 L487.9 493.9" stroke-width="1.0"/>
<path d="M482.2 493.2 L485.5 494.0" stroke-width="0.8"/>
<path d="M481.4 493.9 L487.1 495.3" stroke-width="1.0"/>
<path d="M481.4 494.6 L484.7 495.4" stroke-width="0.8"/>
<path d="M480.6 495.3 L486.3 496.7" stroke-width="1.0"/>
<path d="M480.6 496.0 L483.9 496.8" stroke-width="0.8"/>
<path d="M479.8 496.7 L485.5 498.1" stroke-width="1.0"/>
<path d="M479.8 497.4 L483.1 498.2" stroke-width="0.8"/>
<path d="M479.0 498.1 L484.7 499.5" stroke-width="1.0"/>
<path d="M479.0 498.8 L482.3 499.6" stroke-width="0.8"/>
<path d="M478.2 499.5 L484.0 500.9" stroke-width="1.0"/>
<path d="M478.2 500.2 L481.6 501.0" stroke-width="0.8"/>
<path d="M477.4 500.9 L483.2 502.3" stroke-width="1.0"/>
<path d="M477.4 501.6 L480.8 502.4" stroke-width="0.8"/>
<path d="M476.6 502.3 L482.4 503.7" stroke-width="1.0"/>
<path d="M476.6 503.0 L480.0 503.8" stroke-width="0.8"/>
<path d="M475.3 502.9 L484.3 510.7"/>
<path d="M474.4 505.6 L483.3 513.1"/>
<path d="M475.3 502.9 C475.0 504.0 472.8 510.4 472.3 512.0 C471.7 513.6 470.5 515.2 470.7 516.3 C470.8 517.4 472.4 520.4 473.3 521.3 C474.3 522.2 477.7 523.9 478.7 524.0 C479.6 524.1 480.9 522.8 481.6 522.0 C482.3 521.2 484.3 518.4 484.7 517.3 C485.0 516.2 484.7 513.2 484.7 512.7"/>
<ellipse cx="474.9" cy="516.3" rx="1.07" ry="1.07" stroke-width="0.9"/>
<path d="M478.7 514.7 L476.7 521.3"/>
<path d="M483.3 524.0 L488.0 528.0"/>
<path d="M482.0 526.7 L478.7 535.5 L481.3 537.3"/>
<path d="M486.7 533.3 C486.3 532.1 486.8 529.7 487.3 528.8 C487.9 527.9 490.3 526.1 491.3 526.0 C492.3 525.9 495.3 527.3 496.0 528.0 C496.7 528.7 497.4 530.7 497.1 532.0 C496.8 533.3 494.1 538.5 493.3 539.3 C492.6 540.2 491.4 540.0 490.7 539.3 C489.9 538.6 487.1 534.6 486.7 533.3 Z" fill="#fff"/>
<ellipse cx="491.7" cy="530.9" rx="0.80" ry="0.80" stroke-width="0.9"/>
<ellipse cx="489.3" cy="535.3" rx="0.53" ry="0.53" stroke-width="0.9"/>
<text class="n" transform="translate(518.0,531.1) scale(0.97,1)" text-anchor="middle">45</text>
<path d="M497.3 529.3 L510.0 527.7"/>
<path d="M481.1 538.9 L486.0 542.0 L484.7 544.7 L479.7 541.6 Z" fill="#333"/>
<text class="n" transform="translate(472.3,565.4) scale(0.97,1)" text-anchor="middle">43</text>
<path d="M481.3 544.0 L474.9 555.3"/>
<ellipse cx="490.0" cy="546.7" rx="1.20" ry="1.20" stroke-width="1.2"/>
<text class="n" transform="translate(487.7,571.1) scale(0.97,1)" text-anchor="middle">44</text>
<path d="M489.6 548.3 L487.7 560.7"/>
<text class="n" transform="translate(499.3,735.1) scale(0.97,1)" text-anchor="middle">10</text>
<path d="M485.3 731.1 L490.7 731.1"/>
<text class="n" transform="translate(396.4,669.5) scale(0.97,1)" text-anchor="middle">13</text>
<path d="M398.7 672.0 L417.3 704.0"/>
<text class="n" transform="translate(388.7,683.8) scale(0.97,1)" text-anchor="middle">11</text>
<path d="M387.7 686.7 L387.7 696.7"/>
<path d="M388.9 702.7 L395.3 708.9 L393.3 711.1 L386.7 704.4 Z" fill="#fff"/>
<ellipse cx="387.3" cy="700.4" rx="2.93" ry="2.93" fill="#fff"/>
<path d="M394.7 710.7 L404.0 726.0"/>
<ellipse cx="418.3" cy="706.0" rx="2.67" ry="2.67"/>
<ellipse cx="418.3" cy="706.0" rx="1.47" ry="1.47" stroke-width="0.9"/>
<path d="M415.3 708.7 L416.0 712.7"/>
<path d="M421.7 702.7 L416.0 703.6"/>
<path d="M416.7 702.7 L421.3 708.7"/>
<path d="M422.3 712.7 L412.7 727.3"/>
<path d="M422.7 712.7 L427.3 720.0"/>
<ellipse cx="429.3" cy="723.1" rx="2.40" ry="2.40"/>
<ellipse cx="429.3" cy="723.1" rx="1.20" ry="1.20" stroke-width="0.9"/>
<text class="n" transform="translate(458.0,722.5) scale(0.97,1)" text-anchor="middle">12</text>
<path d="M432.7 722.7 L450.0 719.6"/>
<path d="M410.0 674.3 C409.9 673.2 410.2 668.4 410.7 667.3 C411.1 666.2 413.8 663.8 414.7 663.3 C415.5 662.9 416.2 661.3 419.3 663.1 C422.5 664.8 442.9 678.6 446.0 680.7 C449.1 682.8 449.5 683.2 450.0 684.0 C450.5 684.8 451.1 687.7 450.8 688.7 C450.5 689.7 448.1 693.3 447.3 694.0 C446.5 694.7 443.6 695.8 442.8 696.0 C442.0 696.2 442.5 697.4 439.3 695.6 C436.2 693.8 414.3 679.7 411.3 677.6 C408.4 675.5 410.1 675.3 410.0 674.3 Z" fill="#fff"/>
<path d="M446.7 680.9 C446.4 681.4 445.0 683.5 444.7 684.7 C444.3 685.9 444.2 688.5 444.0 690.0 C443.8 691.5 443.2 695.2 443.1 696.0"/>
<path d="M410.4 676.0 L440.0 694.0"/>
<path d="M416.0 664.9 C415.5 665.3 413.7 666.3 413.1 667.3 C412.4 668.4 412.1 670.0 412.0 671.1 C411.9 672.1 412.6 673.3 412.7 673.7" stroke-width="1.1"/>
<path d="M418.3 666.4 C417.8 666.8 416.0 667.8 415.3 668.8 C414.7 669.8 414.3 671.5 414.3 672.5 C414.2 673.6 414.8 674.8 414.9 675.2" stroke-width="1.1"/>
<path d="M420.5 667.9 C420.0 668.3 418.3 669.2 417.6 670.3 C416.9 671.3 416.6 672.9 416.5 674.0 C416.5 675.1 417.1 676.2 417.2 676.7" stroke-width="1.1"/>
<path d="M422.8 669.3 C422.3 669.7 420.5 670.7 419.9 671.7 C419.2 672.8 418.9 674.4 418.8 675.5 C418.7 676.5 419.4 677.7 419.5 678.1" stroke-width="1.1"/>
<path d="M425.1 670.8 C424.6 671.2 422.8 672.2 422.1 673.2 C421.5 674.2 421.1 675.9 421.1 676.9 C421.0 678.0 421.6 679.2 421.7 679.6" stroke-width="1.1"/>
<path d="M427.3 672.3 C426.8 672.7 425.1 673.6 424.4 674.7 C423.7 675.7 423.4 677.3 423.3 678.4 C423.3 679.5 423.9 680.6 424.0 681.1" stroke-width="1.1"/>
<path d="M429.6 673.7 C429.1 674.1 427.3 675.1 426.7 676.1 C426.0 677.2 425.7 678.8 425.6 679.9 C425.5 680.9 426.2 682.1 426.3 682.5" stroke-width="1.1"/>
<path d="M431.9 675.2 C431.4 675.6 429.6 676.6 428.9 677.6 C428.3 678.6 427.9 680.3 427.9 681.3 C427.8 682.4 428.4 683.6 428.5 684.0" stroke-width="1.1"/>
<path d="M434.1 676.7 C433.6 677.1 431.9 678.0 431.2 679.1 C430.5 680.1 430.2 681.7 430.1 682.8 C430.1 683.9 430.7 685.0 430.8 685.5" stroke-width="1.1"/>
<path d="M436.4 678.1 C435.9 678.5 434.1 679.5 433.5 680.5 C432.8 681.6 432.5 683.2 432.4 684.3 C432.3 685.3 433.0 686.5 433.1 686.9" stroke-width="1.1"/>
<path d="M438.7 679.6 C438.2 680.0 436.4 681.0 435.7 682.0 C435.1 683.0 434.7 684.7 434.7 685.7 C434.6 686.8 435.2 688.0 435.3 688.4" stroke-width="1.1"/>
<path d="M440.9 681.1 C440.4 681.5 438.7 682.4 438.0 683.5 C437.3 684.5 437.0 686.1 436.9 687.2 C436.9 688.3 437.5 689.4 437.6 689.9" stroke-width="1.1"/>
<path d="M443.2 682.5 C442.7 682.9 440.9 683.9 440.3 684.9 C439.6 686.0 439.3 687.6 439.2 688.7 C439.1 689.7 439.8 690.9 439.9 691.3" stroke-width="1.1"/>
<text class="n" transform="translate(474.0,691.8) scale(0.97,1)" text-anchor="middle">14</text>
<path d="M451.3 687.6 L465.3 688.0"/>
<path d="M437.3 696.7 L437.3 742.0"/>
<path d="M423.3 750.7 L426.0 753.3"/>
<path d="M428.7 754.7 L430.7 755.7"/>
<path d="M433.3 757.1 L436.7 758.7"/>
<path d="M436.7 760.7 L436.7 767.3"/>
<path d="M392.9 723.1 L402.7 728.7 L400.9 732.0 L391.3 726.3 Z" fill="#fff"/>
<path d="M394.7 724.1 L393.3 727.1" stroke-width="0.9"/>
<path d="M396.5 725.2 L395.2 728.1" stroke-width="0.9"/>
<path d="M398.4 726.3 L397.1 729.2" stroke-width="0.9"/>
<path d="M400.3 727.3 L398.9 730.3" stroke-width="0.9"/>
<path d="M401.3 735.6 C401.3 734.6 402.2 729.8 402.7 728.7 C403.1 727.6 405.3 724.9 406.0 724.7 C406.7 724.5 409.2 726.0 410.0 726.7 C410.8 727.3 413.7 730.2 414.0 731.3 C414.3 732.5 413.5 737.1 412.7 738.0 C411.9 738.9 406.9 740.6 406.0 740.7 C405.1 740.7 403.8 739.3 403.3 738.8 C402.9 738.3 401.4 736.6 401.3 735.6 Z" fill="#fff"/>
<ellipse cx="408.7" cy="730.7" rx="1.20" ry="1.20" stroke-width="0.9"/>
<path d="M403.3 730.0 L410.0 735.3"/>
<path d="M402.0 733.3 L408.0 738.0"/>
<path d="M412.7 733.5 C412.9 732.8 414.7 730.3 415.3 730.0 C416.0 729.7 418.0 728.0 420.7 729.3 C423.3 730.7 444.9 744.3 447.3 746.0 C449.8 747.7 449.9 748.7 450.1 749.3 C450.4 750.0 450.2 753.3 450.0 754.0 C449.8 754.7 447.9 756.9 447.3 757.3 C446.8 757.7 444.0 758.7 443.3 758.7 C442.7 758.7 441.8 758.7 439.3 757.3 C436.9 755.9 416.3 743.6 414.0 742.0 C411.7 740.4 412.1 738.7 412.0 738.0 C411.9 737.3 412.4 734.1 412.7 733.5 Z" fill="#fff"/>
<path d="M416.0 732.9 L444.7 750.8"/>
<path d="M416.7 736.9 L440.7 752.0"/>
<path d="M420.7 735.3 L442.7 749.3"/>
<ellipse cx="424.0" cy="740.0" rx="2.00" ry="2.00"/>
<ellipse cx="438.0" cy="748.7" rx="1.87" ry="1.87"/>
<path d="M444.7 752.7 L448.7 751.3"/>
<path d="M445.3 755.3 L448.9 754.3"/>
<path d="M435.3 768.0 L438.0 768.0 L438.0 776.7 L435.3 776.7 Z" fill="#fff"/>
<path d="M435.3 769.3 L438.0 770.0" stroke-width="0.9"/>
<path d="M435.3 771.1 L438.0 771.7" stroke-width="0.9"/>
<path d="M435.3 772.8 L438.0 773.5" stroke-width="0.9"/>
<path d="M435.3 774.5 L438.0 775.2" stroke-width="0.9"/>
<path d="M433.7 776.9 L439.6 776.9 L440.0 780.0 L438.3 782.7 L435.1 782.7 L433.3 780.0 Z" fill="#fff"/>
<path d="M433.7 778.7 L439.6 778.7"/>
<text class="n" transform="translate(428.7,803.8) scale(0.97,1)" text-anchor="middle">15</text>
<path d="M436.0 783.3 L429.3 793.3"/>
<path d="M445.7 763.3 L448.4 762.7 L452.4 775.3 L449.7 776.4 Z" fill="#fff"/>
<ellipse cx="451.6" cy="777.7" rx="2.40" ry="2.40" fill="#fff"/>
<path d="M446.7 766.7 L449.3 766.0"/>
<path d="M447.3 769.3 L450.0 768.7"/>
<text class="n" transform="translate(466.7,758.5) scale(0.97,1)" text-anchor="middle">16</text>
<path d="M463.3 762.0 L454.0 773.3"/>
<path d="M445.3 760.0 L446.7 762.0" stroke-dasharray="3 2"/>
<path d="M151.7 724.1 L151.7 731.2"/>
<text class="n" transform="translate(115.8,736.3) scale(0.97,1)" text-anchor="middle">41</text>
<path d="M124.7 732.8 L148.0 735.5"/>
<path d="M148.5 735.0 L148.5 740.9"/>
<path d="M155.0 735.0 L155.0 740.9"/>
<path d="M148.5 740.9 C148.8 741.2 149.1 742.2 150.1 742.5 C151.1 742.9 152.4 742.9 153.4 742.5 C154.3 742.2 154.7 741.2 155.0 740.9"/>
<ellipse cx="151.7" cy="735.0" rx="3.25" ry="1.52" fill="#fff"/>
<path d="M220.0 694.9 L195.7 709.8"/>
<path d="M193.0 711.4 L190.5 713.1"/>
<path d="M187.7 714.8 L157.7 732.8"/>
<path d="M145.2 741.5 L125.0 753.3"/>
<path d="M122.4 754.8 L120.1 756.2"/>
<path d="M117.4 757.8 L99.2 768.5"/>
<path d="M99.2 768.5 L113.9 778.2"/>
<path d="M116.4 779.8 L118.7 781.3"/>
<path d="M121.4 783.1 L135.5 792.4"/>
<text class="n" transform="translate(185.1,739.3) scale(0.97,1)" text-anchor="middle">36</text>
<path d="M176.7 739.8 L158.2 750.1"/>
<path d="M140.9 755.2 C141.4 753.8 149.4 748.3 150.7 748.0 C151.9 747.6 155.5 750.2 156.1 750.7 C156.7 751.1 158.2 753.0 158.2 753.5 C158.3 754.0 157.5 755.9 156.6 756.7 C155.7 757.6 148.4 763.0 147.4 763.7 C146.5 764.3 145.8 765.5 145.2 764.7 C144.7 764.0 140.5 756.6 140.9 755.2 Z" fill="#fff"/>
<path d="M143.1 753.9 L147.4 763.7"/>
<path d="M147.4 753.9 L151.2 751.2 L153.9 753.9 L150.1 756.6 Z"/>
<path d="M140.9 757.7 C139.8 757.9 135.1 758.0 133.3 758.8 C131.5 759.6 129.6 761.5 129.0 762.8 C128.4 764.1 128.9 766.5 129.5 767.6 C130.2 768.6 132.0 769.3 133.3 769.7 C134.7 770.1 137.4 770.8 138.7 770.2 C140.0 769.6 141.5 766.5 142.0 765.8"/>
<path d="M139.3 761.5 C138.7 761.4 136.6 760.6 135.5 761.0 C134.4 761.3 132.6 762.9 132.2 763.7 C131.9 764.5 132.5 765.9 133.3 766.4 C134.1 766.9 136.7 767.4 137.7 767.1 C138.7 766.9 139.7 765.1 140.0 764.7"/>
<path d="M142.0 765.8 L146.3 764.7"/>
<path d="M140.9 757.7 L140.9 755.2"/>
<text class="n" transform="translate(186.2,770.2) scale(0.97,1)" text-anchor="middle">40</text>
<path d="M176.7 767.1 L158.8 771.2"/>
<path d="M144.2 773.4 L151.2 767.5 L158.8 772.3 L151.7 778.0 Z" fill="#fff"/>
<path d="M144.2 773.4 L144.2 775.6 L151.7 780.1 L158.8 775.0 L158.8 772.3"/>
<path d="M146.3 777.2 L146.3 778.8 L152.3 782.3 L157.2 778.4 L157.2 776.4"/>
<path d="M149.0 771.8 L151.2 773.2 L153.7 771.2"/>
<path d="M151.5 782.3 L151.5 787.5" stroke-dasharray="5 2.5"/>
<path d="M131.7 793.3 C131.8 792.9 133.4 791.8 133.8 791.6 C134.3 791.4 140.5 789.6 140.9 789.7 C141.4 789.7 142.3 791.9 142.6 791.9 C142.9 791.9 146.2 790.0 146.6 789.8 C147.0 789.6 149.9 788.3 150.3 788.4 C150.6 788.4 153.5 790.2 154.0 790.5 C154.4 790.8 158.6 794.4 158.8 794.8 C159.0 795.1 158.4 798.0 157.9 798.4 C157.5 798.8 150.2 802.3 149.7 802.7 C149.2 803.0 147.8 805.2 147.4 805.5 C147.1 805.8 142.9 808.2 142.3 808.2 C141.8 808.2 137.2 806.5 136.7 806.1 C136.1 805.7 132.1 801.3 131.9 800.7 C131.6 800.1 131.6 793.8 131.7 793.3 Z" fill="#fff"/>
<path d="M135.3 793.3 L136.0 797.9 L143.0 800.7 L144.5 796.2 L142.6 791.9"/>
<path d="M138.1 792.6 L138.7 799.0"/>
<path d="M140.6 791.9 L141.2 799.9"/>
<path d="M131.9 795.5 L142.3 802.1 L150.8 797.6 L158.8 794.8"/>
<path d="M149.4 794.5 L151.5 795.9 L153.7 794.0"/>
<path d="M153.9 803.7 L168.0 812.4"/>
<text class="n" transform="translate(184.0,793.2) scale(0.97,1)" text-anchor="middle">37</text>
<path d="M182.1 796.7 L176.7 813.5"/>
<text class="n" transform="translate(133.0,839.3) scale(0.97,1)" text-anchor="middle">38</text>
<path d="M136.2 806.2 L133.8 826.2"/>
<path d="M168.1 811.2 L174.6 814.6 L173.5 817.1 L167.0 813.7 Z" fill="#fff"/>
<path d="M169.5 811.9 L168.5 814.3" stroke-width="0.9"/>
<path d="M171.1 812.7 L170.1 815.2" stroke-width="0.9"/>
<path d="M172.7 813.6 L171.7 816.0" stroke-width="0.9"/>
<ellipse cx="177.0" cy="817.1" rx="2.55" ry="2.55" fill="#fff"/>
<path d="M175.8 816.0 C176.1 816.0 177.3 815.4 177.8 815.7 C178.2 816.0 178.2 817.4 178.3 817.7" stroke-width="0.9"/>
<text class="n" transform="translate(272.0,770.0) scale(0.97,1)" text-anchor="middle">3</text>
<path d="M272.0 775.0 L272.0 787.5"/>
<text class="n" transform="translate(293.0,771.8) scale(0.97,1)" text-anchor="middle">8</text>
<path d="M293.0 777.5 L293.0 792.5"/>
<text class="n" transform="translate(265.5,940.0) scale(0.97,1)" text-anchor="middle">1</text>
<path d="M277.5 912.5 L268.0 930.0"/>
<text class="n" transform="translate(216.7,788.5) scale(0.97,1)" text-anchor="middle">2</text>
<path d="M218.0 790.7 L223.7 809.3"/>
<path d="M208.0 821.3 C208.2 820.9 211.2 817.2 212.0 816.7 C212.8 816.2 219.2 813.6 220.0 814.0 C220.8 814.4 224.2 822.1 224.7 823.3 C225.1 824.6 227.2 831.9 226.7 832.7 C226.2 833.5 218.2 835.2 217.3 835.3 C216.4 835.4 213.9 834.8 213.3 834.0 C212.8 833.2 209.0 824.4 208.7 823.6 C208.3 822.8 207.8 821.8 208.0 821.3 Z" fill="#fff"/>
<path d="M220.0 814.0 C221.3 813.2 231.6 807.7 233.3 806.0 C235.1 804.3 236.7 798.0 237.3 796.7 C238.0 795.3 239.3 793.1 240.0 792.7 C240.7 792.2 243.3 791.7 244.0 792.0 C244.7 792.3 246.5 795.1 246.7 796.0 C246.9 796.9 245.9 799.9 246.0 800.7 C246.1 801.4 247.9 802.5 248.0 803.3 C248.1 804.1 247.3 807.6 247.3 808.7 C247.4 809.7 248.7 813.2 248.7 814.0 C248.6 814.8 247.3 816.3 246.7 816.7 C246.1 817.1 242.9 817.1 242.7 818.0 C242.4 818.9 244.1 824.8 244.0 826.0 C243.9 827.2 242.7 829.4 242.0 830.0 C241.3 830.6 238.2 831.9 237.3 832.0 C236.5 832.1 233.9 830.6 233.3 830.7 C232.7 830.7 232.0 832.5 231.3 832.7 C230.7 832.9 227.1 832.7 226.7 832.7" fill="#fff"/>
<path d="M224.7 821.3 L245.3 812.7"/>
<path d="M236.0 813.7 L244.0 811.6 L244.7 814.7 L236.7 816.7 Z" fill="#fff"/>
<path d="M229.6 814.0 C229.2 814.1 227.7 814.2 227.3 814.7 C227.0 815.2 227.0 816.4 227.3 816.9 C227.7 817.4 229.0 817.6 229.3 817.7"/>
<path d="M238.0 823.3 L240.0 827.3 L237.6 827.3 L240.0 824.0"/>
<ellipse cx="242.4" cy="797.3" rx="0.67" ry="0.67" stroke-width="0.9"/>
<path d="M210.0 821.3 L213.3 832.0"/>
<ellipse cx="212.7" cy="820.9" rx="0.40" ry="0.40" stroke-width="0.9"/>
<ellipse cx="216.7" cy="830.7" rx="0.40" ry="0.40" stroke-width="0.9"/>
<path d="M250.4 779.3 L250.1 791.3"/>
<path d="M249.9 794.7 L249.7 796.7"/>
<path d="M249.5 800.0 L248.8 807.6"/>
<path d="M250.4 779.3 L258.7 783.3"/>
<path d="M271.9 793.2 L271.2 793.4 L268.9 792.1 L271.7 787.0 L274.1 788.3 L274.2 788.9 Z" stroke-width="1.5" fill="#fff"/>
<path d="M272.6 791.9 L269.8 790.4"/>
<path d="M273.5 790.2 L270.7 788.7"/>
<path d="M268.5 792.7 L267.7 792.3 L271.2 785.9 L272.0 786.3 Z" stroke-width="1.5" fill="#fff"/>
<path d="M268.8 790.4 L258.2 784.6 L259.6 782.0 L270.2 787.8 Z" fill="#fff"/>
<path d="M267.2 789.5 L267.8 786.5" stroke-width="1.0"/>
<path d="M265.7 788.7 L266.3 785.7" stroke-width="1.0"/>
<path d="M264.2 787.9 L264.8 784.9" stroke-width="1.0"/>
<path d="M262.7 787.1 L263.3 784.0" stroke-width="1.0"/>
<path d="M261.2 786.3 L261.8 783.2" stroke-width="1.0"/>
<path d="M259.7 785.4 L260.3 782.4" stroke-width="1.0"/>
<path d="M285.3 798.7 C285.3 797.7 286.1 795.3 286.7 794.7 C287.2 794.1 289.6 792.8 290.7 792.7 C291.7 792.5 296.4 793.0 297.3 793.3 C298.3 793.7 299.9 795.1 300.1 796.0 C300.3 796.9 299.2 800.7 299.3 802.0 C299.5 803.3 301.2 807.5 301.3 808.7 C301.5 809.9 301.1 813.3 300.7 814.0 C300.3 814.7 298.1 816.0 297.3 816.1 C296.6 816.3 293.9 815.8 293.3 815.3 C292.8 814.9 292.2 812.3 292.0 811.3 C291.8 810.4 291.9 806.7 291.3 806.0 C290.8 805.3 287.3 804.7 286.7 804.0 C286.1 803.3 285.3 799.6 285.3 798.7 Z" fill="#fff"/>
<ellipse cx="287.5" cy="798.7" rx="1.87" ry="4.00"/>
<path d="M294.1 797.3 L296.5 797.3 L296.5 802.7 L294.1 802.7 Z"/>
<ellipse cx="296.7" cy="812.0" rx="0.67" ry="0.67" stroke-width="0.9"/>
<path d="M248.7 810.0 L262.7 806.5"/>
<path d="M265.1 805.9 L266.9 805.5"/>
<path d="M269.3 804.8 L283.3 801.3"/>
<text class="n" transform="translate(278.0,817.8) scale(0.97,1)" text-anchor="middle">4</text>
<path d="M277.3 820.0 L274.7 836.7"/>
<path d="M259.7 843.1 L272.0 839.6 L272.8 842.7 L260.5 846.3 Z" fill="#fff"/>
<path d="M261.1 842.8 L261.9 845.7" stroke-width="0.9"/>
<path d="M262.9 842.3 L263.7 845.2" stroke-width="0.9"/>
<path d="M264.8 841.7 L265.6 844.7" stroke-width="0.9"/>
<path d="M266.7 841.2 L267.5 844.1" stroke-width="0.9"/>
<path d="M268.5 840.7 L269.3 843.6" stroke-width="0.9"/>
<ellipse cx="275.3" cy="840.7" rx="4.27" ry="4.27" fill="#fff"/>
<path d="M242.0 832.0 L246.7 841.3"/>
<path d="M242.7 847.3 C242.7 846.1 244.4 843.9 245.3 843.3 C246.3 842.7 250.9 841.2 252.0 841.3 C253.1 841.5 255.3 843.8 256.0 844.7 C256.7 845.5 258.4 849.1 258.7 850.0 C258.9 850.9 259.5 852.6 258.7 853.5 C257.9 854.3 251.7 858.0 250.7 858.7 C249.6 859.3 248.5 860.5 248.0 860.1 C247.5 859.8 245.9 856.6 245.3 855.3 C244.8 854.1 242.7 848.5 242.7 847.3 Z" fill="#fff"/>
<ellipse cx="252.7" cy="847.3" rx="2.67" ry="2.67"/>
<path d="M253.3 846.0 C253.1 846.1 252.0 846.2 251.7 846.7 C251.5 847.1 252.0 848.3 252.0 848.7"/>
<path d="M244.7 848.0 L248.7 857.3"/>
<path d="M246.7 846.0 L250.7 856.0"/>
<text class="n" transform="translate(233.1,888.7) scale(0.97,1)" text-anchor="middle">5</text>
<path d="M233.3 858.0 L233.3 878.0"/>
<path d="M227.7 853.3 C227.7 852.4 228.4 850.4 229.1 849.7 C229.8 849.1 232.0 848.4 233.1 848.4 C234.1 848.4 236.3 849.3 237.1 850.0 C237.8 850.7 238.7 853.0 238.7 854.0 C238.6 855.0 237.5 856.8 236.7 857.3 C235.9 857.9 233.7 858.1 232.7 858.0 C231.7 857.9 229.7 857.3 229.1 856.7 C228.4 856.0 227.7 854.3 227.7 853.3 Z" fill="#fff"/>
<path d="M234.9 851.3 C234.7 851.6 233.5 852.0 233.3 852.7 C233.2 853.3 233.6 854.8 234.0 855.3 C234.4 855.8 235.7 855.6 236.0 855.6"/>
<path d="M230.0 850.0 L230.4 856.7"/>
<text class="n" transform="translate(283.7,888.7) scale(0.97,1)" text-anchor="middle">7</text>
<path d="M292.7 863.3 L285.3 880.7"/>
<path d="M288.0 840.7 C288.1 840.1 288.0 838.7 288.7 838.0 C289.3 837.3 290.3 836.8 291.3 836.9 C292.3 837.1 293.2 837.5 293.6 838.7 C294.0 839.8 293.7 841.2 293.3 842.7 C293.0 844.1 292.3 845.3 292.0 846.0"/>
<ellipse cx="294.9" cy="848.0" rx="6.13" ry="1.73" transform="rotate(-12 294.9 848.0)" stroke-width="1.15"/>
<ellipse cx="296.1" cy="851.7" rx="6.13" ry="1.73" transform="rotate(-12 296.1 851.7)" stroke-width="1.15"/>
<ellipse cx="297.3" cy="855.5" rx="6.13" ry="1.73" transform="rotate(-12 297.3 855.5)" stroke-width="1.15"/>
<ellipse cx="298.5" cy="859.2" rx="6.13" ry="1.73" transform="rotate(-12 298.5 859.2)" stroke-width="1.15"/>
<ellipse cx="299.7" cy="862.9" rx="6.13" ry="1.73" transform="rotate(-12 299.7 862.9)" stroke-width="1.15"/>
<ellipse cx="300.9" cy="866.7" rx="6.13" ry="1.73" transform="rotate(-12 300.9 866.7)" stroke-width="1.15"/>
<ellipse cx="302.1" cy="870.4" rx="6.13" ry="1.73" transform="rotate(-12 302.1 870.4)" stroke-width="1.15"/>
<ellipse cx="303.3" cy="874.1" rx="6.13" ry="1.73" transform="rotate(-12 303.3 874.1)" stroke-width="1.15"/>
<ellipse cx="304.5" cy="877.9" rx="6.13" ry="1.73" transform="rotate(-12 304.5 877.9)" stroke-width="1.15"/>
<path d="M305.3 880.7 C304.9 881.2 304.1 882.0 303.3 883.3 C302.5 884.7 301.3 885.9 301.3 887.3 C301.3 888.8 302.4 890.3 303.3 890.7 C304.3 891.1 305.5 889.6 306.0 889.3"/>
<text class="n" transform="translate(320.0,821.8) scale(0.97,1)" text-anchor="middle">6</text>
<path d="M317.3 824.0 L309.3 837.3"/>
<path d="M306.0 835.3 C306.1 834.8 306.1 833.1 306.7 832.7 C307.2 832.2 308.3 832.1 308.7 832.9 C309.1 833.7 308.7 835.9 308.7 836.7"/>
<ellipse cx="308.3" cy="837.3" rx="1.87" ry="0.80" transform="rotate(-10 308.3 837.3)" stroke-width="1.0"/>
<ellipse cx="308.3" cy="839.2" rx="1.87" ry="0.80" transform="rotate(-10 308.3 839.2)" stroke-width="1.0"/>
<ellipse cx="308.3" cy="841.1" rx="1.87" ry="0.80" transform="rotate(-10 308.3 841.1)" stroke-width="1.0"/>
<ellipse cx="308.3" cy="842.9" rx="1.87" ry="0.80" transform="rotate(-10 308.3 842.9)" stroke-width="1.0"/>
<path d="M305.3 846.3 L313.3 844.7 L317.3 867.3 L310.7 869.3 Z" fill="#fff"/>
<ellipse cx="314.9" cy="870.7" rx="2.93" ry="0.93" transform="rotate(-10 314.9 870.7)" stroke-width="1.0"/>
<ellipse cx="315.3" cy="872.5" rx="2.93" ry="0.93" transform="rotate(-10 315.3 872.5)" stroke-width="1.0"/>
<ellipse cx="315.7" cy="874.4" rx="2.93" ry="0.93" transform="rotate(-10 315.7 874.4)" stroke-width="1.0"/>
<ellipse cx="316.1" cy="876.3" rx="2.93" ry="0.93" transform="rotate(-10 316.1 876.3)" stroke-width="1.0"/>
<ellipse cx="316.5" cy="878.1" rx="2.93" ry="0.93" transform="rotate(-10 316.5 878.1)" stroke-width="1.0"/>
<path d="M316.0 879.3 C316.0 880.4 315.5 883.1 316.0 884.7 C316.5 886.3 317.6 887.3 318.4 887.3 C319.2 887.3 319.7 885.2 320.0 884.7"/>
<text class="n" transform="translate(332.0,845.8) scale(0.97,1)" text-anchor="middle">9</text>
<path d="M328.0 847.3 L316.7 858.7"/>
<path d="M245.7 855.5 C246.0 856.1 248.3 860.4 249.2 861.9 C250.1 863.5 253.3 868.4 254.7 871.1 C256.0 873.7 261.6 885.8 262.9 888.5 C264.2 891.3 266.1 896.1 267.5 898.6 C268.9 901.1 274.3 910.0 276.7 913.3 C279.1 916.6 289.0 928.6 291.3 931.6 C293.6 934.6 298.8 942.3 299.6 943.5"/>
<path d="M257.9 853.7 C258.1 854.2 259.1 857.4 259.7 859.2 C260.3 860.9 262.9 868.3 263.8 871.1 C264.8 873.8 268.2 883.8 269.3 886.7 C270.4 889.6 274.3 898.6 274.8 900.0"/>
<path d="M278.5 904.1 C279.2 905.3 284.7 914.4 285.8 916.0 C286.9 917.6 288.4 918.2 289.5 919.9 C290.6 921.5 295.4 930.3 296.8 932.5 C298.3 934.7 302.9 940.5 304.2 941.7 C305.5 942.9 309.1 944.1 309.7 944.4"/>
<path d="M266.6 898.6 C266.7 899.3 266.7 901.8 267.5 903.2 C268.3 904.5 270.1 906.0 271.2 906.8 C272.3 907.6 273.6 907.8 274.1 907.9"/>
<path d="M274.4 900.6 L278.5 900.2"/>
<path d="M274.7 903.4 L278.5 903.0"/>
<ellipse cx="280.8" cy="901.3" rx="2.57" ry="2.57" fill="#fff"/>
<path d="M286.3 916.0 L306.2 907.6"/>
<path d="M286.9 918.9 L307.1 910.5"/>
<ellipse cx="308.6" cy="907.6" rx="3.03" ry="3.03" fill="#fff"/>
<path d="M297.8 945.3 C297.8 944.9 298.4 943.2 299.6 943.0 C300.8 942.9 308.2 943.5 309.7 943.5 C311.1 943.5 313.6 943.2 314.3 943.5 C314.9 943.8 315.8 945.7 315.7 946.3 C315.6 946.8 313.9 949.0 313.3 949.5 C312.7 949.9 310.8 950.5 309.7 950.5 C308.6 950.5 303.4 949.8 302.3 949.6 C301.2 949.3 299.1 948.1 298.7 947.7 C298.2 947.3 297.7 945.8 297.8 945.3 Z" fill="#fff"/>
<path d="M294.5 930.7 L308.3 943.7"/>
<path d="M296.1 933.0 L304.2 942.8"/>
<path d="M298.7 945.5 L312.4 947.2"/>
<path d="M300.5 947.6 L310.6 949.0"/>
<path d="M89.6 932.3 L98.2 917.9 L99.6 920.4 L116.5 909.8 L118.2 911.2 L118.6 922.1 L100.0 934.6 L99.6 937.9 Z" stroke-width="1.5" fill="#fff"/>
<path d="M91.5 931.9 L98.7 919.8" stroke-width="0.7" stroke-dasharray="0.8 0.8"/>
<path d="M100.7 919.0 L115.9 911.8" stroke-width="0.9" stroke-dasharray="0.8 0.8"/>
<text transform="matrix(0.58,-0.335,-0.31,1.12,100.7,931.3)" style="font-size:12.2px;font-weight:bold;fill:#111;stroke:#111;stroke-width:0.3px">FWD</text>
<text transform="translate(90.0,956.0) scale(0.925,1)" style="font-size:10.5px;fill:#222;stroke:none">4SV300-6360</text>
</g>
</svg>
</body></html>
